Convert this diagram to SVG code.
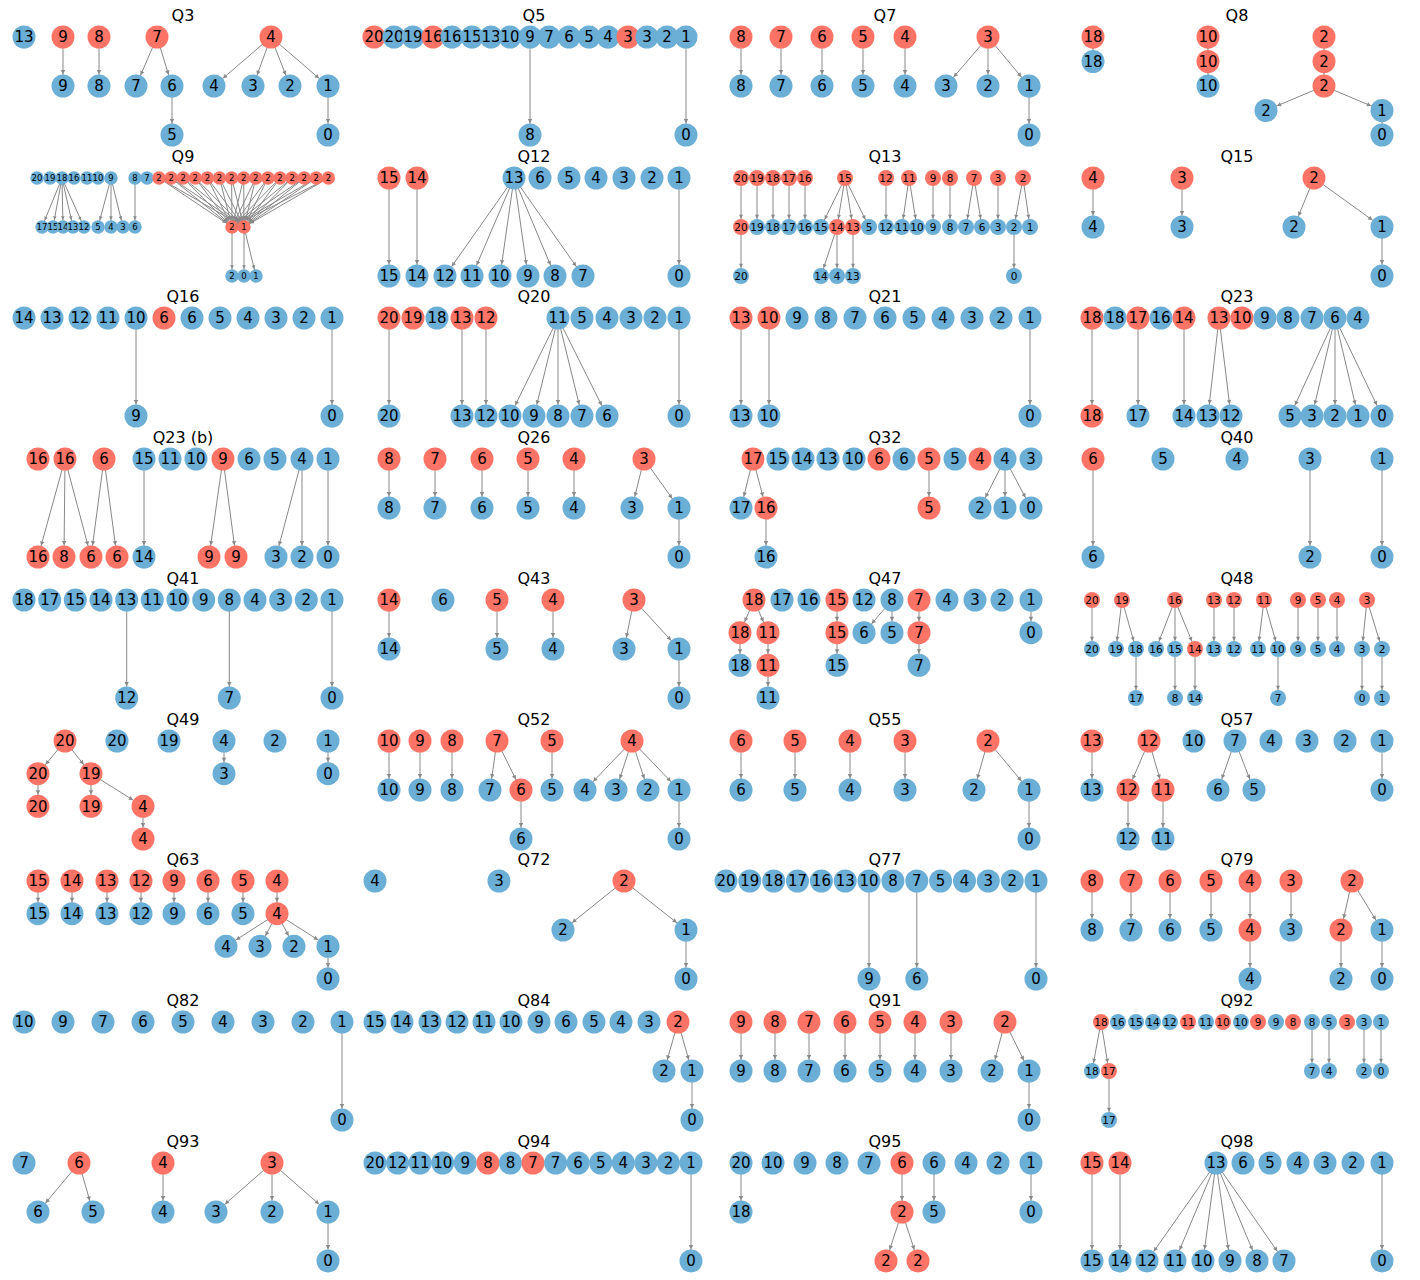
<svg xmlns="http://www.w3.org/2000/svg" width="1420" height="1280" viewBox="0 0 1420 1280">
<defs>
<marker id="a" markerUnits="userSpaceOnUse" viewBox="-20 -5 20 10" markerWidth="20" markerHeight="10" refX="0" refY="0" orient="auto"><path d="M-16,-2.2 L-11.8,0 L-16,2.2z" fill="#888"/></marker>
<marker id="as" markerUnits="userSpaceOnUse" viewBox="-20 -5 20 10" markerWidth="20" markerHeight="10" refX="0" refY="0" orient="auto"><path d="M-12.3,-2 L-8.3,0 L-12.3,2z" fill="#888"/></marker>
<marker id="at" markerUnits="userSpaceOnUse" viewBox="-20 -5 20 10" markerWidth="20" markerHeight="10" refX="0" refY="0" orient="auto"><path d="M-10.8,-1.8 L-7,0 L-10.8,1.8z" fill="#888"/></marker>
<style>
.b{fill:#6baed6}.r{fill:#fd7466}
text{font-family:"DejaVu Sans","Liberation Sans",sans-serif;text-anchor:middle;fill:#000;font-size:15px}
.ttl{font-size:16px}
.sm text{font-size:10.5px}
.xs text{font-size:8.5px}
#edges line{stroke:#888;stroke-width:1;fill:none;marker-end:url(#a)}
#edges .s line{marker-end:url(#as)}
#edges .t line{marker-end:url(#at)}
</style>
</defs>
<rect width="1420" height="1280" fill="#fff"/>
<g id="titles">
<text class="ttl" x="183" y="21">Q3</text><text class="ttl" x="534" y="21">Q5</text><text class="ttl" x="885" y="21">Q7</text><text class="ttl" x="1237" y="21">Q8</text>
<text class="ttl" x="183" y="162">Q9</text><text class="ttl" x="534" y="162">Q12</text><text class="ttl" x="885" y="162">Q13</text><text class="ttl" x="1237" y="162">Q15</text>
<text class="ttl" x="183" y="302">Q16</text><text class="ttl" x="534" y="302">Q20</text><text class="ttl" x="885" y="302">Q21</text><text class="ttl" x="1237" y="302">Q23</text>
<text class="ttl" x="183" y="443">Q23 (b)</text><text class="ttl" x="534" y="443">Q26</text><text class="ttl" x="885" y="443">Q32</text><text class="ttl" x="1237" y="443">Q40</text>
<text class="ttl" x="183" y="584">Q41</text><text class="ttl" x="534" y="584">Q43</text><text class="ttl" x="885" y="584">Q47</text><text class="ttl" x="1237" y="584">Q48</text>
<text class="ttl" x="183" y="725">Q49</text><text class="ttl" x="534" y="725">Q52</text><text class="ttl" x="885" y="725">Q55</text><text class="ttl" x="1237" y="725">Q57</text>
<text class="ttl" x="183" y="865">Q63</text><text class="ttl" x="534" y="865">Q72</text><text class="ttl" x="885" y="865">Q77</text><text class="ttl" x="1237" y="865">Q79</text>
<text class="ttl" x="183" y="1006">Q82</text><text class="ttl" x="534" y="1006">Q84</text><text class="ttl" x="885" y="1006">Q91</text><text class="ttl" x="1237" y="1006">Q92</text>
<text class="ttl" x="183" y="1147">Q93</text><text class="ttl" x="534" y="1147">Q94</text><text class="ttl" x="885" y="1147">Q95</text><text class="ttl" x="1237" y="1147">Q98</text>
</g>
<g id="edges">
<g id="e-q3"><line x1="63" y1="37" x2="63" y2="86"/><line x1="99" y1="37" x2="99" y2="86"/><line x1="157" y1="37" x2="136" y2="86"/><line x1="157" y1="37" x2="172" y2="86"/><line x1="172" y1="86" x2="172" y2="135"/><line x1="271" y1="37" x2="214" y2="86"/><line x1="271" y1="37" x2="253" y2="86"/><line x1="271" y1="37" x2="290" y2="86"/><line x1="271" y1="37" x2="328" y2="86"/><line x1="328" y1="86" x2="328" y2="135"/></g>
<g id="e-q5"><line x1="530" y1="37" x2="530" y2="135"/><line x1="686" y1="37" x2="686" y2="135"/></g>
<g id="e-q7"><line x1="741" y1="37" x2="741" y2="86"/><line x1="781" y1="37" x2="781" y2="86"/><line x1="822" y1="37" x2="822" y2="86"/><line x1="863" y1="37" x2="863" y2="86"/><line x1="905" y1="37" x2="905" y2="86"/><line x1="988" y1="37" x2="946" y2="86"/><line x1="988" y1="37" x2="988" y2="86"/><line x1="988" y1="37" x2="1029" y2="86"/><line x1="1029" y1="86" x2="1029" y2="135"/></g>
<g id="e-q8"><line x1="1093" y1="37" x2="1093" y2="61.5"/><line x1="1208" y1="37" x2="1208" y2="61.5"/><line x1="1208" y1="61.5" x2="1208" y2="86"/><line x1="1324" y1="37" x2="1324" y2="61.5"/><line x1="1324" y1="61.5" x2="1324" y2="86"/><line x1="1324" y1="86" x2="1266" y2="110.5"/><line x1="1324" y1="86" x2="1382" y2="110.5"/><line x1="1382" y1="110.5" x2="1382" y2="135"/></g>
<g id="e-q9" class="t"><line x1="62" y1="178" x2="42" y2="227"/><line x1="62" y1="178" x2="53" y2="227"/><line x1="62" y1="178" x2="63" y2="227"/><line x1="62" y1="178" x2="73" y2="227"/><line x1="62" y1="178" x2="84" y2="227"/><line x1="111" y1="178" x2="98" y2="227"/><line x1="111" y1="178" x2="111" y2="227"/><line x1="111" y1="178" x2="123" y2="227"/><line x1="135" y1="178" x2="135" y2="227"/>
<line x1="159" y1="178" x2="232" y2="227"/><line x1="159" y1="178" x2="244" y2="227"/><line x1="171.1" y1="178" x2="232" y2="227"/><line x1="171.1" y1="178" x2="244" y2="227"/><line x1="183.2" y1="178" x2="232" y2="227"/><line x1="183.2" y1="178" x2="244" y2="227"/><line x1="195.3" y1="178" x2="232" y2="227"/><line x1="195.3" y1="178" x2="244" y2="227"/><line x1="207.4" y1="178" x2="232" y2="227"/><line x1="207.4" y1="178" x2="244" y2="227"/><line x1="219.5" y1="178" x2="232" y2="227"/><line x1="219.5" y1="178" x2="244" y2="227"/><line x1="231.6" y1="178" x2="232" y2="227"/><line x1="231.6" y1="178" x2="244" y2="227"/><line x1="243.7" y1="178" x2="232" y2="227"/><line x1="243.7" y1="178" x2="244" y2="227"/><line x1="255.8" y1="178" x2="232" y2="227"/><line x1="255.8" y1="178" x2="244" y2="227"/><line x1="267.9" y1="178" x2="232" y2="227"/><line x1="267.9" y1="178" x2="244" y2="227"/><line x1="280" y1="178" x2="232" y2="227"/><line x1="280" y1="178" x2="244" y2="227"/><line x1="292.1" y1="178" x2="232" y2="227"/><line x1="292.1" y1="178" x2="244" y2="227"/><line x1="304.2" y1="178" x2="232" y2="227"/><line x1="304.2" y1="178" x2="244" y2="227"/><line x1="316.3" y1="178" x2="232" y2="227"/><line x1="316.3" y1="178" x2="244" y2="227"/><line x1="328.4" y1="178" x2="232" y2="227"/><line x1="328.4" y1="178" x2="244" y2="227"/>
<line x1="232" y1="227" x2="232" y2="276"/><line x1="244" y1="227" x2="244" y2="276"/><line x1="244" y1="227" x2="256" y2="276"/></g>
<g id="e-q12"><line x1="389" y1="178" x2="389" y2="276"/><line x1="417" y1="178" x2="417" y2="276"/><line x1="514" y1="178" x2="445" y2="276"/><line x1="514" y1="178" x2="472" y2="276"/><line x1="514" y1="178" x2="500" y2="276"/><line x1="514" y1="178" x2="528" y2="276"/><line x1="514" y1="178" x2="555" y2="276"/><line x1="514" y1="178" x2="583" y2="276"/><line x1="679" y1="178" x2="679" y2="276"/></g>
<g id="e-q13" class="s"><line x1="741" y1="178" x2="741" y2="227"/><line x1="757" y1="178" x2="757" y2="227"/><line x1="773" y1="178" x2="773" y2="227"/><line x1="789" y1="178" x2="789" y2="227"/><line x1="805" y1="178" x2="805" y2="227"/><line x1="845" y1="178" x2="821" y2="227"/><line x1="845" y1="178" x2="837" y2="227"/><line x1="845" y1="178" x2="853" y2="227"/><line x1="845" y1="178" x2="869" y2="227"/><line x1="886" y1="178" x2="886" y2="227"/><line x1="909" y1="178" x2="902" y2="227"/><line x1="909" y1="178" x2="917" y2="227"/><line x1="933" y1="178" x2="933" y2="227"/><line x1="950" y1="178" x2="950" y2="227"/><line x1="974" y1="178" x2="966" y2="227"/><line x1="974" y1="178" x2="982" y2="227"/><line x1="998" y1="178" x2="998" y2="227"/><line x1="1023" y1="178" x2="1014" y2="227"/><line x1="1023" y1="178" x2="1030" y2="227"/><line x1="741" y1="227" x2="741" y2="276"/><line x1="837" y1="227" x2="821" y2="276"/><line x1="837" y1="227" x2="837" y2="276"/><line x1="853" y1="227" x2="853" y2="276"/><line x1="1014" y1="227" x2="1014" y2="276"/></g>
<g id="e-q15"><line x1="1093" y1="178" x2="1093" y2="227"/><line x1="1182" y1="178" x2="1182" y2="227"/><line x1="1314" y1="178" x2="1294" y2="227"/><line x1="1314" y1="178" x2="1382" y2="227"/><line x1="1382" y1="227" x2="1382" y2="276"/></g>
<g id="e-q16"><line x1="136" y1="318" x2="136" y2="416"/><line x1="332" y1="318" x2="332" y2="416"/></g>
<g id="e-q20"><line x1="389" y1="318" x2="389" y2="416"/><line x1="462" y1="318" x2="462" y2="416"/><line x1="486" y1="318" x2="486" y2="416"/><line x1="558" y1="318" x2="510" y2="416"/><line x1="558" y1="318" x2="534" y2="416"/><line x1="558" y1="318" x2="558" y2="416"/><line x1="558" y1="318" x2="582" y2="416"/><line x1="558" y1="318" x2="607" y2="416"/><line x1="679" y1="318" x2="679" y2="416"/></g>
<g id="e-q21"><line x1="741" y1="318" x2="741" y2="416"/><line x1="769" y1="318" x2="769" y2="416"/><line x1="1030" y1="318" x2="1030" y2="416"/></g>
<g id="e-q23"><line x1="1092" y1="318" x2="1092" y2="416"/><line x1="1138" y1="318" x2="1138" y2="416"/><line x1="1184" y1="318" x2="1184" y2="416"/><line x1="1219" y1="318" x2="1208" y2="416"/><line x1="1219" y1="318" x2="1231" y2="416"/><line x1="1335" y1="318" x2="1290" y2="416"/><line x1="1335" y1="318" x2="1312" y2="416"/><line x1="1335" y1="318" x2="1335" y2="416"/><line x1="1335" y1="318" x2="1358" y2="416"/><line x1="1335" y1="318" x2="1382" y2="416"/></g>
<g id="e-q23b"><line x1="65" y1="459" x2="38" y2="557"/><line x1="65" y1="459" x2="64" y2="557"/><line x1="65" y1="459" x2="91" y2="557"/><line x1="104" y1="459" x2="91" y2="557"/><line x1="104" y1="459" x2="117" y2="557"/><line x1="144" y1="459" x2="144" y2="557"/><line x1="223" y1="459" x2="209" y2="557"/><line x1="223" y1="459" x2="236" y2="557"/><line x1="302" y1="459" x2="276" y2="557"/><line x1="302" y1="459" x2="302" y2="557"/><line x1="328" y1="459" x2="328" y2="557"/></g>
<g id="e-q26"><line x1="389" y1="459" x2="389" y2="508"/><line x1="435" y1="459" x2="435" y2="508"/><line x1="482" y1="459" x2="482" y2="508"/><line x1="528" y1="459" x2="528" y2="508"/><line x1="574" y1="459" x2="574" y2="508"/><line x1="644" y1="459" x2="632" y2="508"/><line x1="644" y1="459" x2="679" y2="508"/><line x1="679" y1="508" x2="679" y2="557"/></g>
<g id="e-q32"><line x1="753" y1="459" x2="741" y2="508"/><line x1="753" y1="459" x2="766" y2="508"/><line x1="766" y1="508" x2="766" y2="557"/><line x1="929" y1="459" x2="929" y2="508"/><line x1="1005" y1="459" x2="980" y2="508"/><line x1="1005" y1="459" x2="1005" y2="508"/><line x1="1005" y1="459" x2="1031" y2="508"/></g>
<g id="e-q40"><line x1="1093" y1="459" x2="1093" y2="557"/><line x1="1310" y1="459" x2="1310" y2="557"/><line x1="1382" y1="459" x2="1382" y2="557"/></g>
<g id="e-q41"><line x1="126.7" y1="600" x2="126.7" y2="698"/><line x1="229.3" y1="600" x2="229.3" y2="698"/><line x1="332" y1="600" x2="332" y2="698"/></g>
<g id="e-q43"><line x1="389" y1="600" x2="389" y2="649"/><line x1="497" y1="600" x2="497" y2="649"/><line x1="553" y1="600" x2="553" y2="649"/><line x1="634" y1="600" x2="624" y2="649"/><line x1="634" y1="600" x2="679" y2="649"/><line x1="679" y1="649" x2="679" y2="698"/></g>
<g id="e-q47"><line x1="754" y1="600" x2="740" y2="632.7"/><line x1="754" y1="600" x2="768" y2="632.7"/><line x1="740" y1="632.7" x2="740" y2="665.3"/><line x1="768" y1="632.7" x2="768" y2="665.3"/><line x1="768" y1="665.3" x2="768" y2="698"/><line x1="837" y1="600" x2="837" y2="632.7"/><line x1="837" y1="632.7" x2="837" y2="665.3"/><line x1="892" y1="600" x2="864" y2="632.7"/><line x1="892" y1="600" x2="892" y2="632.7"/><line x1="919" y1="600" x2="919" y2="632.7"/><line x1="919" y1="632.7" x2="919" y2="665.3"/><line x1="1031" y1="600" x2="1031" y2="632.7"/></g>
<g id="e-q48" class="s"><line x1="1092" y1="600" x2="1092" y2="649"/><line x1="1122" y1="600" x2="1116" y2="649"/><line x1="1122" y1="600" x2="1136" y2="649"/><line x1="1175" y1="600" x2="1156" y2="649"/><line x1="1175" y1="600" x2="1175" y2="649"/><line x1="1175" y1="600" x2="1195" y2="649"/><line x1="1214" y1="600" x2="1214" y2="649"/><line x1="1234" y1="600" x2="1234" y2="649"/><line x1="1264" y1="600" x2="1258" y2="649"/><line x1="1264" y1="600" x2="1278" y2="649"/><line x1="1298" y1="600" x2="1298" y2="649"/><line x1="1318" y1="600" x2="1318" y2="649"/><line x1="1337" y1="600" x2="1337" y2="649"/><line x1="1367" y1="600" x2="1362" y2="649"/><line x1="1367" y1="600" x2="1382" y2="649"/><line x1="1136" y1="649" x2="1136" y2="698"/><line x1="1175" y1="649" x2="1175" y2="698"/><line x1="1195" y1="649" x2="1195" y2="698"/><line x1="1278" y1="649" x2="1278" y2="698"/><line x1="1362" y1="649" x2="1362" y2="698"/><line x1="1382" y1="649" x2="1382" y2="698"/></g>
<g id="e-q49"><line x1="65" y1="741" x2="38" y2="773.7"/><line x1="65" y1="741" x2="91" y2="773.7"/><line x1="38" y1="773.7" x2="38" y2="806.3"/><line x1="91" y1="773.7" x2="91" y2="806.3"/><line x1="91" y1="773.7" x2="143" y2="806.3"/><line x1="143" y1="806.3" x2="143" y2="839"/><line x1="224" y1="741" x2="224" y2="773.7"/><line x1="328" y1="741" x2="328" y2="773.7"/></g>
<g id="e-q52"><line x1="389" y1="741" x2="389" y2="790"/><line x1="420" y1="741" x2="420" y2="790"/><line x1="452" y1="741" x2="452" y2="790"/><line x1="497" y1="741" x2="490" y2="790"/><line x1="497" y1="741" x2="521" y2="790"/><line x1="552" y1="741" x2="552" y2="790"/><line x1="632" y1="741" x2="585" y2="790"/><line x1="632" y1="741" x2="616" y2="790"/><line x1="632" y1="741" x2="648" y2="790"/><line x1="632" y1="741" x2="679" y2="790"/><line x1="521" y1="790" x2="521" y2="839"/><line x1="679" y1="790" x2="679" y2="839"/></g>
<g id="e-q55"><line x1="741" y1="741" x2="741" y2="790"/><line x1="795" y1="741" x2="795" y2="790"/><line x1="850" y1="741" x2="850" y2="790"/><line x1="905" y1="741" x2="905" y2="790"/><line x1="988" y1="741" x2="974" y2="790"/><line x1="988" y1="741" x2="1029" y2="790"/><line x1="1029" y1="790" x2="1029" y2="839"/></g>
<g id="e-q57"><line x1="1092" y1="741" x2="1092" y2="790"/><line x1="1149" y1="741" x2="1128" y2="790"/><line x1="1149" y1="741" x2="1163" y2="790"/><line x1="1128" y1="790" x2="1128" y2="839"/><line x1="1163" y1="790" x2="1163" y2="839"/><line x1="1235" y1="741" x2="1218" y2="790"/><line x1="1235" y1="741" x2="1254" y2="790"/><line x1="1382" y1="741" x2="1382" y2="790"/></g>
<g id="e-q63"><line x1="38" y1="881" x2="38" y2="913.7"/><line x1="72" y1="881" x2="72" y2="913.7"/><line x1="107" y1="881" x2="107" y2="913.7"/><line x1="141" y1="881" x2="141" y2="913.7"/><line x1="174" y1="881" x2="174" y2="913.7"/><line x1="208" y1="881" x2="208" y2="913.7"/><line x1="243" y1="881" x2="243" y2="913.7"/><line x1="277" y1="881" x2="277" y2="913.7"/><line x1="277" y1="913.7" x2="226" y2="946.3"/><line x1="277" y1="913.7" x2="260" y2="946.3"/><line x1="277" y1="913.7" x2="294" y2="946.3"/><line x1="277" y1="913.7" x2="328" y2="946.3"/><line x1="328" y1="946.3" x2="328" y2="979"/></g>
<g id="e-q72"><line x1="624" y1="881" x2="563" y2="930"/><line x1="624" y1="881" x2="686" y2="930"/><line x1="686" y1="930" x2="686" y2="979"/></g>
<g id="e-q77"><line x1="869" y1="881" x2="869" y2="979"/><line x1="916.8" y1="881" x2="916.8" y2="979"/><line x1="1036" y1="881" x2="1036" y2="979"/></g>
<g id="e-q79"><line x1="1092" y1="881" x2="1092" y2="930"/><line x1="1131" y1="881" x2="1131" y2="930"/><line x1="1170" y1="881" x2="1170" y2="930"/><line x1="1211" y1="881" x2="1211" y2="930"/><line x1="1250" y1="881" x2="1250" y2="930"/><line x1="1291" y1="881" x2="1291" y2="930"/><line x1="1352" y1="881" x2="1341" y2="930"/><line x1="1352" y1="881" x2="1382" y2="930"/><line x1="1250" y1="930" x2="1250" y2="979"/><line x1="1341" y1="930" x2="1341" y2="979"/><line x1="1382" y1="930" x2="1382" y2="979"/></g>
<g id="e-q82"><line x1="342" y1="1022" x2="342" y2="1120"/></g>
<g id="e-q84"><line x1="678" y1="1022" x2="664" y2="1071"/><line x1="678" y1="1022" x2="692" y2="1071"/><line x1="692" y1="1071" x2="692" y2="1120"/></g>
<g id="e-q91"><line x1="741" y1="1022" x2="741" y2="1071"/><line x1="775" y1="1022" x2="775" y2="1071"/><line x1="809" y1="1022" x2="809" y2="1071"/><line x1="845" y1="1022" x2="845" y2="1071"/><line x1="880" y1="1022" x2="880" y2="1071"/><line x1="915" y1="1022" x2="915" y2="1071"/><line x1="951" y1="1022" x2="951" y2="1071"/><line x1="1005" y1="1022" x2="992" y2="1071"/><line x1="1005" y1="1022" x2="1029" y2="1071"/><line x1="1029" y1="1071" x2="1029" y2="1120"/></g>
<g id="e-q92" class="s"><line x1="1101" y1="1022" x2="1092" y2="1071"/><line x1="1101" y1="1022" x2="1109" y2="1071"/><line x1="1109" y1="1071" x2="1109" y2="1120"/><line x1="1312" y1="1022" x2="1312" y2="1071"/><line x1="1329" y1="1022" x2="1329" y2="1071"/><line x1="1364" y1="1022" x2="1364" y2="1071"/><line x1="1381" y1="1022" x2="1381" y2="1071"/></g>
<g id="e-q93"><line x1="79" y1="1163" x2="38" y2="1212"/><line x1="79" y1="1163" x2="93" y2="1212"/><line x1="163" y1="1163" x2="163" y2="1212"/><line x1="272" y1="1163" x2="216" y2="1212"/><line x1="272" y1="1163" x2="272" y2="1212"/><line x1="272" y1="1163" x2="328" y2="1212"/><line x1="328" y1="1212" x2="328" y2="1261"/></g>
<g id="e-q94"><line x1="691" y1="1163" x2="691" y2="1261"/></g>
<g id="e-q95"><line x1="741" y1="1163" x2="741" y2="1212"/><line x1="902" y1="1163" x2="902" y2="1212"/><line x1="934" y1="1163" x2="934" y2="1212"/><line x1="1031" y1="1163" x2="1031" y2="1212"/><line x1="902" y1="1212" x2="886" y2="1261"/><line x1="902" y1="1212" x2="918" y2="1261"/></g>
<g id="e-q98"><line x1="1092" y1="1163" x2="1092" y2="1261"/><line x1="1120" y1="1163" x2="1120" y2="1261"/><line x1="1216" y1="1163" x2="1147" y2="1261"/><line x1="1216" y1="1163" x2="1175" y2="1261"/><line x1="1216" y1="1163" x2="1203" y2="1261"/><line x1="1216" y1="1163" x2="1230" y2="1261"/><line x1="1216" y1="1163" x2="1257" y2="1261"/><line x1="1216" y1="1163" x2="1284" y2="1261"/><line x1="1382" y1="1163" x2="1382" y2="1261"/></g>
</g>
<g id="nodes">
<g id="Q3">
<g id="q3n1"><circle class="b" cx="24" cy="37" r="11.5"/><text x="24" y="42.4">13</text></g>
<g id="q3n2"><circle class="r" cx="63" cy="37" r="11.5"/><text x="63" y="42.4">9</text></g>
<g id="q3n3"><circle class="r" cx="99" cy="37" r="11.5"/><text x="99" y="42.4">8</text></g>
<g id="q3n4"><circle class="r" cx="157" cy="37" r="11.5"/><text x="157" y="42.4">7</text></g>
<g id="q3n5"><circle class="r" cx="271" cy="37" r="11.5"/><text x="271" y="42.4">4</text></g>
<g id="q3n6"><circle class="b" cx="63" cy="86" r="11.5"/><text x="63" y="91.4">9</text></g>
<g id="q3n7"><circle class="b" cx="99" cy="86" r="11.5"/><text x="99" y="91.4">8</text></g>
<g id="q3n8"><circle class="b" cx="136" cy="86" r="11.5"/><text x="136" y="91.4">7</text></g>
<g id="q3n9"><circle class="b" cx="172" cy="86" r="11.5"/><text x="172" y="91.4">6</text></g>
<g id="q3n10"><circle class="b" cx="214" cy="86" r="11.5"/><text x="214" y="91.4">4</text></g>
<g id="q3n11"><circle class="b" cx="253" cy="86" r="11.5"/><text x="253" y="91.4">3</text></g>
<g id="q3n12"><circle class="b" cx="290" cy="86" r="11.5"/><text x="290" y="91.4">2</text></g>
<g id="q3n13"><circle class="b" cx="328" cy="86" r="11.5"/><text x="328" y="91.4">1</text></g>
<g id="q3n14"><circle class="b" cx="172" cy="135" r="11.5"/><text x="172" y="140.4">5</text></g>
<g id="q3n15"><circle class="b" cx="328" cy="135" r="11.5"/><text x="328" y="140.4">0</text></g>
</g>
<g id="Q5">
<g id="q5n1"><circle class="r" cx="374" cy="37" r="11.5"/><text x="374" y="42.4">20</text></g>
<g id="q5n2"><circle class="b" cx="394" cy="37" r="11.5"/><text x="394" y="42.4">20</text></g>
<g id="q5n3"><circle class="b" cx="413" cy="37" r="11.5"/><text x="413" y="42.4">19</text></g>
<g id="q5n4"><circle class="r" cx="433" cy="37" r="11.5"/><text x="433" y="42.4">16</text></g>
<g id="q5n5"><circle class="b" cx="452" cy="37" r="11.5"/><text x="452" y="42.4">16</text></g>
<g id="q5n6"><circle class="b" cx="472" cy="37" r="11.5"/><text x="472" y="42.4">15</text></g>
<g id="q5n7"><circle class="b" cx="491" cy="37" r="11.5"/><text x="491" y="42.4">13</text></g>
<g id="q5n8"><circle class="b" cx="510" cy="37" r="11.5"/><text x="510" y="42.4">10</text></g>
<g id="q5n9"><circle class="b" cx="530" cy="37" r="11.5"/><text x="530" y="42.4">9</text></g>
<g id="q5n10"><circle class="b" cx="549" cy="37" r="11.5"/><text x="549" y="42.4">7</text></g>
<g id="q5n11"><circle class="b" cx="569" cy="37" r="11.5"/><text x="569" y="42.4">6</text></g>
<g id="q5n12"><circle class="b" cx="589" cy="37" r="11.5"/><text x="589" y="42.4">5</text></g>
<g id="q5n13"><circle class="b" cx="608" cy="37" r="11.5"/><text x="608" y="42.4">4</text></g>
<g id="q5n14"><circle class="r" cx="628" cy="37" r="11.5"/><text x="628" y="42.4">3</text></g>
<g id="q5n15"><circle class="b" cx="647" cy="37" r="11.5"/><text x="647" y="42.4">3</text></g>
<g id="q5n16"><circle class="b" cx="667" cy="37" r="11.5"/><text x="667" y="42.4">2</text></g>
<g id="q5n17"><circle class="b" cx="686" cy="37" r="11.5"/><text x="686" y="42.4">1</text></g>
<g id="q5n18"><circle class="b" cx="530" cy="135" r="11.5"/><text x="530" y="140.4">8</text></g>
<g id="q5n19"><circle class="b" cx="686" cy="135" r="11.5"/><text x="686" y="140.4">0</text></g>
</g>
<g id="Q7">
<g id="q7n1"><circle class="r" cx="741" cy="37" r="11.5"/><text x="741" y="42.4">8</text></g>
<g id="q7n2"><circle class="r" cx="781" cy="37" r="11.5"/><text x="781" y="42.4">7</text></g>
<g id="q7n3"><circle class="r" cx="822" cy="37" r="11.5"/><text x="822" y="42.4">6</text></g>
<g id="q7n4"><circle class="r" cx="863" cy="37" r="11.5"/><text x="863" y="42.4">5</text></g>
<g id="q7n5"><circle class="r" cx="905" cy="37" r="11.5"/><text x="905" y="42.4">4</text></g>
<g id="q7n6"><circle class="r" cx="988" cy="37" r="11.5"/><text x="988" y="42.4">3</text></g>
<g id="q7n7"><circle class="b" cx="741" cy="86" r="11.5"/><text x="741" y="91.4">8</text></g>
<g id="q7n8"><circle class="b" cx="781" cy="86" r="11.5"/><text x="781" y="91.4">7</text></g>
<g id="q7n9"><circle class="b" cx="822" cy="86" r="11.5"/><text x="822" y="91.4">6</text></g>
<g id="q7n10"><circle class="b" cx="863" cy="86" r="11.5"/><text x="863" y="91.4">5</text></g>
<g id="q7n11"><circle class="b" cx="905" cy="86" r="11.5"/><text x="905" y="91.4">4</text></g>
<g id="q7n12"><circle class="b" cx="946" cy="86" r="11.5"/><text x="946" y="91.4">3</text></g>
<g id="q7n13"><circle class="b" cx="988" cy="86" r="11.5"/><text x="988" y="91.4">2</text></g>
<g id="q7n14"><circle class="b" cx="1029" cy="86" r="11.5"/><text x="1029" y="91.4">1</text></g>
<g id="q7n15"><circle class="b" cx="1029" cy="135" r="11.5"/><text x="1029" y="140.4">0</text></g>
</g>
<g id="Q8">
<g id="q8n1"><circle class="r" cx="1093" cy="37" r="11.5"/><text x="1093" y="42.4">18</text></g>
<g id="q8n2"><circle class="b" cx="1093" cy="61.5" r="11.5"/><text x="1093" y="66.9">18</text></g>
<g id="q8n3"><circle class="r" cx="1208" cy="37" r="11.5"/><text x="1208" y="42.4">10</text></g>
<g id="q8n4"><circle class="r" cx="1208" cy="61.5" r="11.5"/><text x="1208" y="66.9">10</text></g>
<g id="q8n5"><circle class="b" cx="1208" cy="86" r="11.5"/><text x="1208" y="91.4">10</text></g>
<g id="q8n6"><circle class="r" cx="1324" cy="37" r="11.5"/><text x="1324" y="42.4">2</text></g>
<g id="q8n7"><circle class="r" cx="1324" cy="61.5" r="11.5"/><text x="1324" y="66.9">2</text></g>
<g id="q8n8"><circle class="r" cx="1324" cy="86" r="11.5"/><text x="1324" y="91.4">2</text></g>
<g id="q8n9"><circle class="b" cx="1266" cy="110.5" r="11.5"/><text x="1266" y="115.9">2</text></g>
<g id="q8n10"><circle class="b" cx="1382" cy="110.5" r="11.5"/><text x="1382" y="115.9">1</text></g>
<g id="q8n11"><circle class="b" cx="1382" cy="135" r="11.5"/><text x="1382" y="140.4">0</text></g>
</g>
<g id="Q9" class="xs">
<g id="q9n1"><circle class="b" cx="37" cy="178" r="6.7"/><text x="37" y="181.1">20</text></g>
<g id="q9n2"><circle class="b" cx="50" cy="178" r="6.7"/><text x="50" y="181.1">19</text></g>
<g id="q9n3"><circle class="b" cx="62" cy="178" r="6.7"/><text x="62" y="181.1">18</text></g>
<g id="q9n4"><circle class="b" cx="74" cy="178" r="6.7"/><text x="74" y="181.1">16</text></g>
<g id="q9n5"><circle class="b" cx="87" cy="178" r="6.7"/><text x="87" y="181.1">11</text></g>
<g id="q9n6"><circle class="b" cx="98" cy="178" r="6.7"/><text x="98" y="181.1">10</text></g>
<g id="q9n7"><circle class="b" cx="111" cy="178" r="6.7"/><text x="111" y="181.1">9</text></g>
<g id="q9n8"><circle class="b" cx="135" cy="178" r="6.7"/><text x="135" y="181.1">8</text></g>
<g id="q9n9"><circle class="b" cx="147" cy="178" r="6.7"/><text x="147" y="181.1">7</text></g>
<g id="q9n10"><circle class="r" cx="159" cy="178" r="6.7"/><text x="159" y="181.1">2</text></g>
<g id="q9n11"><circle class="r" cx="171.1" cy="178" r="6.7"/><text x="171.1" y="181.1">2</text></g>
<g id="q9n12"><circle class="r" cx="183.2" cy="178" r="6.7"/><text x="183.2" y="181.1">2</text></g>
<g id="q9n13"><circle class="r" cx="195.3" cy="178" r="6.7"/><text x="195.3" y="181.1">2</text></g>
<g id="q9n14"><circle class="r" cx="207.4" cy="178" r="6.7"/><text x="207.4" y="181.1">2</text></g>
<g id="q9n15"><circle class="r" cx="219.5" cy="178" r="6.7"/><text x="219.5" y="181.1">2</text></g>
<g id="q9n16"><circle class="r" cx="231.6" cy="178" r="6.7"/><text x="231.6" y="181.1">2</text></g>
<g id="q9n17"><circle class="r" cx="243.7" cy="178" r="6.7"/><text x="243.7" y="181.1">2</text></g>
<g id="q9n18"><circle class="r" cx="255.8" cy="178" r="6.7"/><text x="255.8" y="181.1">2</text></g>
<g id="q9n19"><circle class="r" cx="267.9" cy="178" r="6.7"/><text x="267.9" y="181.1">2</text></g>
<g id="q9n20"><circle class="r" cx="280" cy="178" r="6.7"/><text x="280" y="181.1">2</text></g>
<g id="q9n21"><circle class="r" cx="292.1" cy="178" r="6.7"/><text x="292.1" y="181.1">2</text></g>
<g id="q9n22"><circle class="r" cx="304.2" cy="178" r="6.7"/><text x="304.2" y="181.1">2</text></g>
<g id="q9n23"><circle class="r" cx="316.3" cy="178" r="6.7"/><text x="316.3" y="181.1">2</text></g>
<g id="q9n24"><circle class="r" cx="328.4" cy="178" r="6.7"/><text x="328.4" y="181.1">2</text></g>
<g id="q9n25"><circle class="b" cx="42" cy="227" r="6.7"/><text x="42" y="230.1">17</text></g>
<g id="q9n26"><circle class="b" cx="53" cy="227" r="6.7"/><text x="53" y="230.1">15</text></g>
<g id="q9n27"><circle class="b" cx="63" cy="227" r="6.7"/><text x="63" y="230.1">14</text></g>
<g id="q9n28"><circle class="b" cx="73" cy="227" r="6.7"/><text x="73" y="230.1">13</text></g>
<g id="q9n29"><circle class="b" cx="84" cy="227" r="6.7"/><text x="84" y="230.1">12</text></g>
<g id="q9n30"><circle class="b" cx="98" cy="227" r="6.7"/><text x="98" y="230.1">5</text></g>
<g id="q9n31"><circle class="b" cx="111" cy="227" r="6.7"/><text x="111" y="230.1">4</text></g>
<g id="q9n32"><circle class="b" cx="123" cy="227" r="6.7"/><text x="123" y="230.1">3</text></g>
<g id="q9n33"><circle class="b" cx="135" cy="227" r="6.7"/><text x="135" y="230.1">6</text></g>
<g id="q9n34"><circle class="r" cx="232" cy="227" r="6.7"/><text x="232" y="230.1">2</text></g>
<g id="q9n35"><circle class="r" cx="244" cy="227" r="6.7"/><text x="244" y="230.1">1</text></g>
<g id="q9n36"><circle class="b" cx="232" cy="276" r="6.7"/><text x="232" y="279.1">2</text></g>
<g id="q9n37"><circle class="b" cx="244" cy="276" r="6.7"/><text x="244" y="279.1">0</text></g>
<g id="q9n38"><circle class="b" cx="256" cy="276" r="6.7"/><text x="256" y="279.1">1</text></g>
</g>
<g id="Q12">
<g id="q12n1"><circle class="r" cx="389" cy="178" r="11.5"/><text x="389" y="183.4">15</text></g>
<g id="q12n2"><circle class="r" cx="417" cy="178" r="11.5"/><text x="417" y="183.4">14</text></g>
<g id="q12n3"><circle class="b" cx="514" cy="178" r="11.5"/><text x="514" y="183.4">13</text></g>
<g id="q12n4"><circle class="b" cx="540" cy="178" r="11.5"/><text x="540" y="183.4">6</text></g>
<g id="q12n5"><circle class="b" cx="569" cy="178" r="11.5"/><text x="569" y="183.4">5</text></g>
<g id="q12n6"><circle class="b" cx="596" cy="178" r="11.5"/><text x="596" y="183.4">4</text></g>
<g id="q12n7"><circle class="b" cx="624" cy="178" r="11.5"/><text x="624" y="183.4">3</text></g>
<g id="q12n8"><circle class="b" cx="652" cy="178" r="11.5"/><text x="652" y="183.4">2</text></g>
<g id="q12n9"><circle class="b" cx="679" cy="178" r="11.5"/><text x="679" y="183.4">1</text></g>
<g id="q12n10"><circle class="b" cx="389" cy="276" r="11.5"/><text x="389" y="281.4">15</text></g>
<g id="q12n11"><circle class="b" cx="417" cy="276" r="11.5"/><text x="417" y="281.4">14</text></g>
<g id="q12n12"><circle class="b" cx="445" cy="276" r="11.5"/><text x="445" y="281.4">12</text></g>
<g id="q12n13"><circle class="b" cx="472" cy="276" r="11.5"/><text x="472" y="281.4">11</text></g>
<g id="q12n14"><circle class="b" cx="500" cy="276" r="11.5"/><text x="500" y="281.4">10</text></g>
<g id="q12n15"><circle class="b" cx="528" cy="276" r="11.5"/><text x="528" y="281.4">9</text></g>
<g id="q12n16"><circle class="b" cx="555" cy="276" r="11.5"/><text x="555" y="281.4">8</text></g>
<g id="q12n17"><circle class="b" cx="583" cy="276" r="11.5"/><text x="583" y="281.4">7</text></g>
<g id="q12n18"><circle class="b" cx="679" cy="276" r="11.5"/><text x="679" y="281.4">0</text></g>
</g>
<g id="Q13" class="sm">
<g id="q13n1"><circle class="r" cx="741" cy="178" r="8"/><text x="741" y="181.8">20</text></g>
<g id="q13n2"><circle class="r" cx="757" cy="178" r="8"/><text x="757" y="181.8">19</text></g>
<g id="q13n3"><circle class="r" cx="773" cy="178" r="8"/><text x="773" y="181.8">18</text></g>
<g id="q13n4"><circle class="r" cx="789" cy="178" r="8"/><text x="789" y="181.8">17</text></g>
<g id="q13n5"><circle class="r" cx="805" cy="178" r="8"/><text x="805" y="181.8">16</text></g>
<g id="q13n6"><circle class="r" cx="845" cy="178" r="8"/><text x="845" y="181.8">15</text></g>
<g id="q13n7"><circle class="r" cx="886" cy="178" r="8"/><text x="886" y="181.8">12</text></g>
<g id="q13n8"><circle class="r" cx="909" cy="178" r="8"/><text x="909" y="181.8">11</text></g>
<g id="q13n9"><circle class="r" cx="933" cy="178" r="8"/><text x="933" y="181.8">9</text></g>
<g id="q13n10"><circle class="r" cx="950" cy="178" r="8"/><text x="950" y="181.8">8</text></g>
<g id="q13n11"><circle class="r" cx="974" cy="178" r="8"/><text x="974" y="181.8">7</text></g>
<g id="q13n12"><circle class="r" cx="998" cy="178" r="8"/><text x="998" y="181.8">3</text></g>
<g id="q13n13"><circle class="r" cx="1023" cy="178" r="8"/><text x="1023" y="181.8">2</text></g>
<g id="q13n14"><circle class="r" cx="741" cy="227" r="8"/><text x="741" y="230.8">20</text></g>
<g id="q13n15"><circle class="b" cx="757" cy="227" r="8"/><text x="757" y="230.8">19</text></g>
<g id="q13n16"><circle class="b" cx="773" cy="227" r="8"/><text x="773" y="230.8">18</text></g>
<g id="q13n17"><circle class="b" cx="789" cy="227" r="8"/><text x="789" y="230.8">17</text></g>
<g id="q13n18"><circle class="b" cx="805" cy="227" r="8"/><text x="805" y="230.8">16</text></g>
<g id="q13n19"><circle class="b" cx="821" cy="227" r="8"/><text x="821" y="230.8">15</text></g>
<g id="q13n20"><circle class="r" cx="837" cy="227" r="8"/><text x="837" y="230.8">14</text></g>
<g id="q13n21"><circle class="r" cx="853" cy="227" r="8"/><text x="853" y="230.8">13</text></g>
<g id="q13n22"><circle class="b" cx="869" cy="227" r="8"/><text x="869" y="230.8">5</text></g>
<g id="q13n23"><circle class="b" cx="886" cy="227" r="8"/><text x="886" y="230.8">12</text></g>
<g id="q13n24"><circle class="b" cx="902" cy="227" r="8"/><text x="902" y="230.8">11</text></g>
<g id="q13n25"><circle class="b" cx="917" cy="227" r="8"/><text x="917" y="230.8">10</text></g>
<g id="q13n26"><circle class="b" cx="933" cy="227" r="8"/><text x="933" y="230.8">9</text></g>
<g id="q13n27"><circle class="b" cx="950" cy="227" r="8"/><text x="950" y="230.8">8</text></g>
<g id="q13n28"><circle class="b" cx="966" cy="227" r="8"/><text x="966" y="230.8">7</text></g>
<g id="q13n29"><circle class="b" cx="982" cy="227" r="8"/><text x="982" y="230.8">6</text></g>
<g id="q13n30"><circle class="b" cx="998" cy="227" r="8"/><text x="998" y="230.8">3</text></g>
<g id="q13n31"><circle class="b" cx="1014" cy="227" r="8"/><text x="1014" y="230.8">2</text></g>
<g id="q13n32"><circle class="b" cx="1030" cy="227" r="8"/><text x="1030" y="230.8">1</text></g>
<g id="q13n33"><circle class="b" cx="741" cy="276" r="8"/><text x="741" y="279.8">20</text></g>
<g id="q13n34"><circle class="b" cx="821" cy="276" r="8"/><text x="821" y="279.8">14</text></g>
<g id="q13n35"><circle class="b" cx="837" cy="276" r="8"/><text x="837" y="279.8">4</text></g>
<g id="q13n36"><circle class="b" cx="853" cy="276" r="8"/><text x="853" y="279.8">13</text></g>
<g id="q13n37"><circle class="b" cx="1014" cy="276" r="8"/><text x="1014" y="279.8">0</text></g>
</g>
<g id="Q15">
<g id="q15n1"><circle class="r" cx="1093" cy="178" r="11.5"/><text x="1093" y="183.4">4</text></g>
<g id="q15n2"><circle class="r" cx="1182" cy="178" r="11.5"/><text x="1182" y="183.4">3</text></g>
<g id="q15n3"><circle class="r" cx="1314" cy="178" r="11.5"/><text x="1314" y="183.4">2</text></g>
<g id="q15n4"><circle class="b" cx="1093" cy="227" r="11.5"/><text x="1093" y="232.4">4</text></g>
<g id="q15n5"><circle class="b" cx="1182" cy="227" r="11.5"/><text x="1182" y="232.4">3</text></g>
<g id="q15n6"><circle class="b" cx="1294" cy="227" r="11.5"/><text x="1294" y="232.4">2</text></g>
<g id="q15n7"><circle class="b" cx="1382" cy="227" r="11.5"/><text x="1382" y="232.4">1</text></g>
<g id="q15n8"><circle class="b" cx="1382" cy="276" r="11.5"/><text x="1382" y="281.4">0</text></g>
</g>
<g id="Q16">
<g id="q16n1"><circle class="b" cx="24" cy="318" r="11.5"/><text x="24" y="323.4">14</text></g>
<g id="q16n2"><circle class="b" cx="52" cy="318" r="11.5"/><text x="52" y="323.4">13</text></g>
<g id="q16n3"><circle class="b" cx="80" cy="318" r="11.5"/><text x="80" y="323.4">12</text></g>
<g id="q16n4"><circle class="b" cx="108" cy="318" r="11.5"/><text x="108" y="323.4">11</text></g>
<g id="q16n5"><circle class="b" cx="136" cy="318" r="11.5"/><text x="136" y="323.4">10</text></g>
<g id="q16n6"><circle class="r" cx="164" cy="318" r="11.5"/><text x="164" y="323.4">6</text></g>
<g id="q16n7"><circle class="b" cx="192" cy="318" r="11.5"/><text x="192" y="323.4">6</text></g>
<g id="q16n8"><circle class="b" cx="220" cy="318" r="11.5"/><text x="220" y="323.4">5</text></g>
<g id="q16n9"><circle class="b" cx="248" cy="318" r="11.5"/><text x="248" y="323.4">4</text></g>
<g id="q16n10"><circle class="b" cx="276" cy="318" r="11.5"/><text x="276" y="323.4">3</text></g>
<g id="q16n11"><circle class="b" cx="304" cy="318" r="11.5"/><text x="304" y="323.4">2</text></g>
<g id="q16n12"><circle class="b" cx="332" cy="318" r="11.5"/><text x="332" y="323.4">1</text></g>
<g id="q16n13"><circle class="b" cx="136" cy="416" r="11.5"/><text x="136" y="421.4">9</text></g>
<g id="q16n14"><circle class="b" cx="332" cy="416" r="11.5"/><text x="332" y="421.4">0</text></g>
</g>
<g id="Q20">
<g id="q20n1"><circle class="r" cx="389" cy="318" r="11.5"/><text x="389" y="323.4">20</text></g>
<g id="q20n2"><circle class="r" cx="413" cy="318" r="11.5"/><text x="413" y="323.4">19</text></g>
<g id="q20n3"><circle class="b" cx="437" cy="318" r="11.5"/><text x="437" y="323.4">18</text></g>
<g id="q20n4"><circle class="r" cx="462" cy="318" r="11.5"/><text x="462" y="323.4">13</text></g>
<g id="q20n5"><circle class="r" cx="486" cy="318" r="11.5"/><text x="486" y="323.4">12</text></g>
<g id="q20n6"><circle class="b" cx="558" cy="318" r="11.5"/><text x="558" y="323.4">11</text></g>
<g id="q20n7"><circle class="b" cx="582" cy="318" r="11.5"/><text x="582" y="323.4">5</text></g>
<g id="q20n8"><circle class="b" cx="607" cy="318" r="11.5"/><text x="607" y="323.4">4</text></g>
<g id="q20n9"><circle class="b" cx="631" cy="318" r="11.5"/><text x="631" y="323.4">3</text></g>
<g id="q20n10"><circle class="b" cx="655" cy="318" r="11.5"/><text x="655" y="323.4">2</text></g>
<g id="q20n11"><circle class="b" cx="679" cy="318" r="11.5"/><text x="679" y="323.4">1</text></g>
<g id="q20n12"><circle class="b" cx="389" cy="416" r="11.5"/><text x="389" y="421.4">20</text></g>
<g id="q20n13"><circle class="b" cx="462" cy="416" r="11.5"/><text x="462" y="421.4">13</text></g>
<g id="q20n14"><circle class="b" cx="486" cy="416" r="11.5"/><text x="486" y="421.4">12</text></g>
<g id="q20n15"><circle class="b" cx="510" cy="416" r="11.5"/><text x="510" y="421.4">10</text></g>
<g id="q20n16"><circle class="b" cx="534" cy="416" r="11.5"/><text x="534" y="421.4">9</text></g>
<g id="q20n17"><circle class="b" cx="558" cy="416" r="11.5"/><text x="558" y="421.4">8</text></g>
<g id="q20n18"><circle class="b" cx="582" cy="416" r="11.5"/><text x="582" y="421.4">7</text></g>
<g id="q20n19"><circle class="b" cx="607" cy="416" r="11.5"/><text x="607" y="421.4">6</text></g>
<g id="q20n20"><circle class="b" cx="679" cy="416" r="11.5"/><text x="679" y="421.4">0</text></g>
</g>
<g id="Q21">
<g id="q21n1"><circle class="r" cx="741" cy="318" r="11.5"/><text x="741" y="323.4">13</text></g>
<g id="q21n2"><circle class="r" cx="769" cy="318" r="11.5"/><text x="769" y="323.4">10</text></g>
<g id="q21n3"><circle class="b" cx="797" cy="318" r="11.5"/><text x="797" y="323.4">9</text></g>
<g id="q21n4"><circle class="b" cx="826" cy="318" r="11.5"/><text x="826" y="323.4">8</text></g>
<g id="q21n5"><circle class="b" cx="855" cy="318" r="11.5"/><text x="855" y="323.4">7</text></g>
<g id="q21n6"><circle class="b" cx="885" cy="318" r="11.5"/><text x="885" y="323.4">6</text></g>
<g id="q21n7"><circle class="b" cx="914" cy="318" r="11.5"/><text x="914" y="323.4">5</text></g>
<g id="q21n8"><circle class="b" cx="943" cy="318" r="11.5"/><text x="943" y="323.4">4</text></g>
<g id="q21n9"><circle class="b" cx="972" cy="318" r="11.5"/><text x="972" y="323.4">3</text></g>
<g id="q21n10"><circle class="b" cx="1001" cy="318" r="11.5"/><text x="1001" y="323.4">2</text></g>
<g id="q21n11"><circle class="b" cx="1030" cy="318" r="11.5"/><text x="1030" y="323.4">1</text></g>
<g id="q21n12"><circle class="b" cx="741" cy="416" r="11.5"/><text x="741" y="421.4">13</text></g>
<g id="q21n13"><circle class="b" cx="769" cy="416" r="11.5"/><text x="769" y="421.4">10</text></g>
<g id="q21n14"><circle class="b" cx="1030" cy="416" r="11.5"/><text x="1030" y="421.4">0</text></g>
</g>
<g id="Q23">
<g id="q23n1"><circle class="r" cx="1092" cy="318" r="11.5"/><text x="1092" y="323.4">18</text></g>
<g id="q23n2"><circle class="b" cx="1115" cy="318" r="11.5"/><text x="1115" y="323.4">18</text></g>
<g id="q23n3"><circle class="r" cx="1138" cy="318" r="11.5"/><text x="1138" y="323.4">17</text></g>
<g id="q23n4"><circle class="b" cx="1161" cy="318" r="11.5"/><text x="1161" y="323.4">16</text></g>
<g id="q23n5"><circle class="r" cx="1184" cy="318" r="11.5"/><text x="1184" y="323.4">14</text></g>
<g id="q23n6"><circle class="r" cx="1219" cy="318" r="11.5"/><text x="1219" y="323.4">13</text></g>
<g id="q23n7"><circle class="r" cx="1242" cy="318" r="11.5"/><text x="1242" y="323.4">10</text></g>
<g id="q23n8"><circle class="b" cx="1265" cy="318" r="11.5"/><text x="1265" y="323.4">9</text></g>
<g id="q23n9"><circle class="b" cx="1288" cy="318" r="11.5"/><text x="1288" y="323.4">8</text></g>
<g id="q23n10"><circle class="b" cx="1312" cy="318" r="11.5"/><text x="1312" y="323.4">7</text></g>
<g id="q23n11"><circle class="b" cx="1335" cy="318" r="11.5"/><text x="1335" y="323.4">6</text></g>
<g id="q23n12"><circle class="b" cx="1358" cy="318" r="11.5"/><text x="1358" y="323.4">4</text></g>
<g id="q23n13"><circle class="r" cx="1092" cy="416" r="11.5"/><text x="1092" y="421.4">18</text></g>
<g id="q23n14"><circle class="b" cx="1138" cy="416" r="11.5"/><text x="1138" y="421.4">17</text></g>
<g id="q23n15"><circle class="b" cx="1184" cy="416" r="11.5"/><text x="1184" y="421.4">14</text></g>
<g id="q23n16"><circle class="b" cx="1208" cy="416" r="11.5"/><text x="1208" y="421.4">13</text></g>
<g id="q23n17"><circle class="b" cx="1231" cy="416" r="11.5"/><text x="1231" y="421.4">12</text></g>
<g id="q23n18"><circle class="b" cx="1290" cy="416" r="11.5"/><text x="1290" y="421.4">5</text></g>
<g id="q23n19"><circle class="b" cx="1312" cy="416" r="11.5"/><text x="1312" y="421.4">3</text></g>
<g id="q23n20"><circle class="b" cx="1335" cy="416" r="11.5"/><text x="1335" y="421.4">2</text></g>
<g id="q23n21"><circle class="b" cx="1358" cy="416" r="11.5"/><text x="1358" y="421.4">1</text></g>
<g id="q23n22"><circle class="b" cx="1382" cy="416" r="11.5"/><text x="1382" y="421.4">0</text></g>
</g>
<g id="Q23b">
<g id="q23bn1"><circle class="r" cx="38" cy="459" r="11.5"/><text x="38" y="464.4">16</text></g>
<g id="q23bn2"><circle class="r" cx="65" cy="459" r="11.5"/><text x="65" y="464.4">16</text></g>
<g id="q23bn3"><circle class="r" cx="104" cy="459" r="11.5"/><text x="104" y="464.4">6</text></g>
<g id="q23bn4"><circle class="b" cx="144" cy="459" r="11.5"/><text x="144" y="464.4">15</text></g>
<g id="q23bn5"><circle class="b" cx="170" cy="459" r="11.5"/><text x="170" y="464.4">11</text></g>
<g id="q23bn6"><circle class="b" cx="196" cy="459" r="11.5"/><text x="196" y="464.4">10</text></g>
<g id="q23bn7"><circle class="r" cx="223" cy="459" r="11.5"/><text x="223" y="464.4">9</text></g>
<g id="q23bn8"><circle class="b" cx="249" cy="459" r="11.5"/><text x="249" y="464.4">6</text></g>
<g id="q23bn9"><circle class="b" cx="275" cy="459" r="11.5"/><text x="275" y="464.4">5</text></g>
<g id="q23bn10"><circle class="b" cx="302" cy="459" r="11.5"/><text x="302" y="464.4">4</text></g>
<g id="q23bn11"><circle class="b" cx="328" cy="459" r="11.5"/><text x="328" y="464.4">1</text></g>
<g id="q23bn12"><circle class="r" cx="38" cy="557" r="11.5"/><text x="38" y="562.4">16</text></g>
<g id="q23bn13"><circle class="r" cx="64" cy="557" r="11.5"/><text x="64" y="562.4">8</text></g>
<g id="q23bn14"><circle class="r" cx="91" cy="557" r="11.5"/><text x="91" y="562.4">6</text></g>
<g id="q23bn15"><circle class="r" cx="117" cy="557" r="11.5"/><text x="117" y="562.4">6</text></g>
<g id="q23bn16"><circle class="b" cx="144" cy="557" r="11.5"/><text x="144" y="562.4">14</text></g>
<g id="q23bn17"><circle class="r" cx="209" cy="557" r="11.5"/><text x="209" y="562.4">9</text></g>
<g id="q23bn18"><circle class="r" cx="236" cy="557" r="11.5"/><text x="236" y="562.4">9</text></g>
<g id="q23bn19"><circle class="b" cx="276" cy="557" r="11.5"/><text x="276" y="562.4">3</text></g>
<g id="q23bn20"><circle class="b" cx="302" cy="557" r="11.5"/><text x="302" y="562.4">2</text></g>
<g id="q23bn21"><circle class="b" cx="328" cy="557" r="11.5"/><text x="328" y="562.4">0</text></g>
</g>
<g id="Q26">
<g id="q26n1"><circle class="r" cx="389" cy="459" r="11.5"/><text x="389" y="464.4">8</text></g>
<g id="q26n2"><circle class="r" cx="435" cy="459" r="11.5"/><text x="435" y="464.4">7</text></g>
<g id="q26n3"><circle class="r" cx="482" cy="459" r="11.5"/><text x="482" y="464.4">6</text></g>
<g id="q26n4"><circle class="r" cx="528" cy="459" r="11.5"/><text x="528" y="464.4">5</text></g>
<g id="q26n5"><circle class="r" cx="574" cy="459" r="11.5"/><text x="574" y="464.4">4</text></g>
<g id="q26n6"><circle class="r" cx="644" cy="459" r="11.5"/><text x="644" y="464.4">3</text></g>
<g id="q26n7"><circle class="b" cx="389" cy="508" r="11.5"/><text x="389" y="513.4">8</text></g>
<g id="q26n8"><circle class="b" cx="435" cy="508" r="11.5"/><text x="435" y="513.4">7</text></g>
<g id="q26n9"><circle class="b" cx="482" cy="508" r="11.5"/><text x="482" y="513.4">6</text></g>
<g id="q26n10"><circle class="b" cx="528" cy="508" r="11.5"/><text x="528" y="513.4">5</text></g>
<g id="q26n11"><circle class="b" cx="574" cy="508" r="11.5"/><text x="574" y="513.4">4</text></g>
<g id="q26n12"><circle class="b" cx="632" cy="508" r="11.5"/><text x="632" y="513.4">3</text></g>
<g id="q26n13"><circle class="b" cx="679" cy="508" r="11.5"/><text x="679" y="513.4">1</text></g>
<g id="q26n14"><circle class="b" cx="679" cy="557" r="11.5"/><text x="679" y="562.4">0</text></g>
</g>
<g id="Q32">
<g id="q32n1"><circle class="r" cx="753" cy="459" r="11.5"/><text x="753" y="464.4">17</text></g>
<g id="q32n2"><circle class="b" cx="778" cy="459" r="11.5"/><text x="778" y="464.4">15</text></g>
<g id="q32n3"><circle class="b" cx="803" cy="459" r="11.5"/><text x="803" y="464.4">14</text></g>
<g id="q32n4"><circle class="b" cx="828" cy="459" r="11.5"/><text x="828" y="464.4">13</text></g>
<g id="q32n5"><circle class="b" cx="854" cy="459" r="11.5"/><text x="854" y="464.4">10</text></g>
<g id="q32n6"><circle class="r" cx="879" cy="459" r="11.5"/><text x="879" y="464.4">6</text></g>
<g id="q32n7"><circle class="b" cx="904" cy="459" r="11.5"/><text x="904" y="464.4">6</text></g>
<g id="q32n8"><circle class="r" cx="929" cy="459" r="11.5"/><text x="929" y="464.4">5</text></g>
<g id="q32n9"><circle class="b" cx="955" cy="459" r="11.5"/><text x="955" y="464.4">5</text></g>
<g id="q32n10"><circle class="r" cx="980" cy="459" r="11.5"/><text x="980" y="464.4">4</text></g>
<g id="q32n11"><circle class="b" cx="1005" cy="459" r="11.5"/><text x="1005" y="464.4">4</text></g>
<g id="q32n12"><circle class="b" cx="1031" cy="459" r="11.5"/><text x="1031" y="464.4">3</text></g>
<g id="q32n13"><circle class="b" cx="741" cy="508" r="11.5"/><text x="741" y="513.4">17</text></g>
<g id="q32n14"><circle class="r" cx="766" cy="508" r="11.5"/><text x="766" y="513.4">16</text></g>
<g id="q32n15"><circle class="r" cx="929" cy="508" r="11.5"/><text x="929" y="513.4">5</text></g>
<g id="q32n16"><circle class="b" cx="980" cy="508" r="11.5"/><text x="980" y="513.4">2</text></g>
<g id="q32n17"><circle class="b" cx="1005" cy="508" r="11.5"/><text x="1005" y="513.4">1</text></g>
<g id="q32n18"><circle class="b" cx="1031" cy="508" r="11.5"/><text x="1031" y="513.4">0</text></g>
<g id="q32n19"><circle class="b" cx="766" cy="557" r="11.5"/><text x="766" y="562.4">16</text></g>
</g>
<g id="Q40">
<g id="q40n1"><circle class="r" cx="1093" cy="459" r="11.5"/><text x="1093" y="464.4">6</text></g>
<g id="q40n2"><circle class="b" cx="1163" cy="459" r="11.5"/><text x="1163" y="464.4">5</text></g>
<g id="q40n3"><circle class="b" cx="1237" cy="459" r="11.5"/><text x="1237" y="464.4">4</text></g>
<g id="q40n4"><circle class="b" cx="1310" cy="459" r="11.5"/><text x="1310" y="464.4">3</text></g>
<g id="q40n5"><circle class="b" cx="1382" cy="459" r="11.5"/><text x="1382" y="464.4">1</text></g>
<g id="q40n6"><circle class="b" cx="1093" cy="557" r="11.5"/><text x="1093" y="562.4">6</text></g>
<g id="q40n7"><circle class="b" cx="1310" cy="557" r="11.5"/><text x="1310" y="562.4">2</text></g>
<g id="q40n8"><circle class="b" cx="1382" cy="557" r="11.5"/><text x="1382" y="562.4">0</text></g>
</g>
<g id="Q41">
<g id="q41n1"><circle class="b" cx="24" cy="600" r="11.5"/><text x="24" y="605.4">18</text></g>
<g id="q41n2"><circle class="b" cx="49.7" cy="600" r="11.5"/><text x="49.7" y="605.4">17</text></g>
<g id="q41n3"><circle class="b" cx="75.3" cy="600" r="11.5"/><text x="75.3" y="605.4">15</text></g>
<g id="q41n4"><circle class="b" cx="101" cy="600" r="11.5"/><text x="101" y="605.4">14</text></g>
<g id="q41n5"><circle class="b" cx="126.7" cy="600" r="11.5"/><text x="126.7" y="605.4">13</text></g>
<g id="q41n6"><circle class="b" cx="152.3" cy="600" r="11.5"/><text x="152.3" y="605.4">11</text></g>
<g id="q41n7"><circle class="b" cx="178" cy="600" r="11.5"/><text x="178" y="605.4">10</text></g>
<g id="q41n8"><circle class="b" cx="203.7" cy="600" r="11.5"/><text x="203.7" y="605.4">9</text></g>
<g id="q41n9"><circle class="b" cx="229.3" cy="600" r="11.5"/><text x="229.3" y="605.4">8</text></g>
<g id="q41n10"><circle class="b" cx="255" cy="600" r="11.5"/><text x="255" y="605.4">4</text></g>
<g id="q41n11"><circle class="b" cx="280.7" cy="600" r="11.5"/><text x="280.7" y="605.4">3</text></g>
<g id="q41n12"><circle class="b" cx="306.3" cy="600" r="11.5"/><text x="306.3" y="605.4">2</text></g>
<g id="q41n13"><circle class="b" cx="332" cy="600" r="11.5"/><text x="332" y="605.4">1</text></g>
<g id="q41n14"><circle class="b" cx="126.7" cy="698" r="11.5"/><text x="126.7" y="703.4">12</text></g>
<g id="q41n15"><circle class="b" cx="229.3" cy="698" r="11.5"/><text x="229.3" y="703.4">7</text></g>
<g id="q41n16"><circle class="b" cx="332" cy="698" r="11.5"/><text x="332" y="703.4">0</text></g>
</g>
<g id="Q43">
<g id="q43n1"><circle class="r" cx="389" cy="600" r="11.5"/><text x="389" y="605.4">14</text></g>
<g id="q43n2"><circle class="b" cx="443" cy="600" r="11.5"/><text x="443" y="605.4">6</text></g>
<g id="q43n3"><circle class="r" cx="497" cy="600" r="11.5"/><text x="497" y="605.4">5</text></g>
<g id="q43n4"><circle class="r" cx="553" cy="600" r="11.5"/><text x="553" y="605.4">4</text></g>
<g id="q43n5"><circle class="r" cx="634" cy="600" r="11.5"/><text x="634" y="605.4">3</text></g>
<g id="q43n6"><circle class="b" cx="389" cy="649" r="11.5"/><text x="389" y="654.4">14</text></g>
<g id="q43n7"><circle class="b" cx="497" cy="649" r="11.5"/><text x="497" y="654.4">5</text></g>
<g id="q43n8"><circle class="b" cx="553" cy="649" r="11.5"/><text x="553" y="654.4">4</text></g>
<g id="q43n9"><circle class="b" cx="624" cy="649" r="11.5"/><text x="624" y="654.4">3</text></g>
<g id="q43n10"><circle class="b" cx="679" cy="649" r="11.5"/><text x="679" y="654.4">1</text></g>
<g id="q43n11"><circle class="b" cx="679" cy="698" r="11.5"/><text x="679" y="703.4">0</text></g>
</g>
<g id="Q47">
<g id="q47n1"><circle class="r" cx="754" cy="600" r="11.5"/><text x="754" y="605.4">18</text></g>
<g id="q47n2"><circle class="b" cx="782" cy="600" r="11.5"/><text x="782" y="605.4">17</text></g>
<g id="q47n3"><circle class="b" cx="809" cy="600" r="11.5"/><text x="809" y="605.4">16</text></g>
<g id="q47n4"><circle class="r" cx="837" cy="600" r="11.5"/><text x="837" y="605.4">15</text></g>
<g id="q47n5"><circle class="b" cx="864" cy="600" r="11.5"/><text x="864" y="605.4">12</text></g>
<g id="q47n6"><circle class="b" cx="892" cy="600" r="11.5"/><text x="892" y="605.4">8</text></g>
<g id="q47n7"><circle class="r" cx="919" cy="600" r="11.5"/><text x="919" y="605.4">7</text></g>
<g id="q47n8"><circle class="b" cx="947" cy="600" r="11.5"/><text x="947" y="605.4">4</text></g>
<g id="q47n9"><circle class="b" cx="975" cy="600" r="11.5"/><text x="975" y="605.4">3</text></g>
<g id="q47n10"><circle class="b" cx="1002" cy="600" r="11.5"/><text x="1002" y="605.4">2</text></g>
<g id="q47n11"><circle class="b" cx="1031" cy="600" r="11.5"/><text x="1031" y="605.4">1</text></g>
<g id="q47n12"><circle class="r" cx="740" cy="632.7" r="11.5"/><text x="740" y="638.1">18</text></g>
<g id="q47n13"><circle class="r" cx="768" cy="632.7" r="11.5"/><text x="768" y="638.1">11</text></g>
<g id="q47n14"><circle class="r" cx="837" cy="632.7" r="11.5"/><text x="837" y="638.1">15</text></g>
<g id="q47n15"><circle class="b" cx="864" cy="632.7" r="11.5"/><text x="864" y="638.1">6</text></g>
<g id="q47n16"><circle class="b" cx="892" cy="632.7" r="11.5"/><text x="892" y="638.1">5</text></g>
<g id="q47n17"><circle class="r" cx="919" cy="632.7" r="11.5"/><text x="919" y="638.1">7</text></g>
<g id="q47n18"><circle class="b" cx="1031" cy="632.7" r="11.5"/><text x="1031" y="638.1">0</text></g>
<g id="q47n19"><circle class="b" cx="740" cy="665.3" r="11.5"/><text x="740" y="670.7">18</text></g>
<g id="q47n20"><circle class="r" cx="768" cy="665.3" r="11.5"/><text x="768" y="670.7">11</text></g>
<g id="q47n21"><circle class="b" cx="837" cy="665.3" r="11.5"/><text x="837" y="670.7">15</text></g>
<g id="q47n22"><circle class="b" cx="919" cy="665.3" r="11.5"/><text x="919" y="670.7">7</text></g>
<g id="q47n23"><circle class="b" cx="768" cy="698" r="11.5"/><text x="768" y="703.4">11</text></g>
</g>
<g id="Q48" class="sm">
<g id="q48n1"><circle class="r" cx="1092" cy="600" r="8"/><text x="1092" y="603.8">20</text></g>
<g id="q48n2"><circle class="r" cx="1122" cy="600" r="8"/><text x="1122" y="603.8">19</text></g>
<g id="q48n3"><circle class="r" cx="1175" cy="600" r="8"/><text x="1175" y="603.8">16</text></g>
<g id="q48n4"><circle class="r" cx="1214" cy="600" r="8"/><text x="1214" y="603.8">13</text></g>
<g id="q48n5"><circle class="r" cx="1234" cy="600" r="8"/><text x="1234" y="603.8">12</text></g>
<g id="q48n6"><circle class="r" cx="1264" cy="600" r="8"/><text x="1264" y="603.8">11</text></g>
<g id="q48n7"><circle class="r" cx="1298" cy="600" r="8"/><text x="1298" y="603.8">9</text></g>
<g id="q48n8"><circle class="r" cx="1318" cy="600" r="8"/><text x="1318" y="603.8">5</text></g>
<g id="q48n9"><circle class="r" cx="1337" cy="600" r="8"/><text x="1337" y="603.8">4</text></g>
<g id="q48n10"><circle class="r" cx="1367" cy="600" r="8"/><text x="1367" y="603.8">3</text></g>
<g id="q48n11"><circle class="b" cx="1092" cy="649" r="8"/><text x="1092" y="652.8">20</text></g>
<g id="q48n12"><circle class="b" cx="1116" cy="649" r="8"/><text x="1116" y="652.8">19</text></g>
<g id="q48n13"><circle class="b" cx="1136" cy="649" r="8"/><text x="1136" y="652.8">18</text></g>
<g id="q48n14"><circle class="b" cx="1156" cy="649" r="8"/><text x="1156" y="652.8">16</text></g>
<g id="q48n15"><circle class="b" cx="1175" cy="649" r="8"/><text x="1175" y="652.8">15</text></g>
<g id="q48n16"><circle class="r" cx="1195" cy="649" r="8"/><text x="1195" y="652.8">14</text></g>
<g id="q48n17"><circle class="b" cx="1214" cy="649" r="8"/><text x="1214" y="652.8">13</text></g>
<g id="q48n18"><circle class="b" cx="1234" cy="649" r="8"/><text x="1234" y="652.8">12</text></g>
<g id="q48n19"><circle class="b" cx="1258" cy="649" r="8"/><text x="1258" y="652.8">11</text></g>
<g id="q48n20"><circle class="b" cx="1278" cy="649" r="8"/><text x="1278" y="652.8">10</text></g>
<g id="q48n21"><circle class="b" cx="1298" cy="649" r="8"/><text x="1298" y="652.8">9</text></g>
<g id="q48n22"><circle class="b" cx="1318" cy="649" r="8"/><text x="1318" y="652.8">5</text></g>
<g id="q48n23"><circle class="b" cx="1337" cy="649" r="8"/><text x="1337" y="652.8">4</text></g>
<g id="q48n24"><circle class="b" cx="1362" cy="649" r="8"/><text x="1362" y="652.8">3</text></g>
<g id="q48n25"><circle class="b" cx="1382" cy="649" r="8"/><text x="1382" y="652.8">2</text></g>
<g id="q48n26"><circle class="b" cx="1136" cy="698" r="8"/><text x="1136" y="701.8">17</text></g>
<g id="q48n27"><circle class="b" cx="1175" cy="698" r="8"/><text x="1175" y="701.8">8</text></g>
<g id="q48n28"><circle class="b" cx="1195" cy="698" r="8"/><text x="1195" y="701.8">14</text></g>
<g id="q48n29"><circle class="b" cx="1278" cy="698" r="8"/><text x="1278" y="701.8">7</text></g>
<g id="q48n30"><circle class="b" cx="1362" cy="698" r="8"/><text x="1362" y="701.8">0</text></g>
<g id="q48n31"><circle class="b" cx="1382" cy="698" r="8"/><text x="1382" y="701.8">1</text></g>
</g>
<g id="Q49">
<g id="q49n1"><circle class="r" cx="65" cy="741" r="11.5"/><text x="65" y="746.4">20</text></g>
<g id="q49n2"><circle class="b" cx="117" cy="741" r="11.5"/><text x="117" y="746.4">20</text></g>
<g id="q49n3"><circle class="b" cx="169" cy="741" r="11.5"/><text x="169" y="746.4">19</text></g>
<g id="q49n4"><circle class="b" cx="224" cy="741" r="11.5"/><text x="224" y="746.4">4</text></g>
<g id="q49n5"><circle class="b" cx="275" cy="741" r="11.5"/><text x="275" y="746.4">2</text></g>
<g id="q49n6"><circle class="b" cx="328" cy="741" r="11.5"/><text x="328" y="746.4">1</text></g>
<g id="q49n7"><circle class="r" cx="38" cy="773.7" r="11.5"/><text x="38" y="779.1">20</text></g>
<g id="q49n8"><circle class="r" cx="91" cy="773.7" r="11.5"/><text x="91" y="779.1">19</text></g>
<g id="q49n9"><circle class="b" cx="224" cy="773.7" r="11.5"/><text x="224" y="779.1">3</text></g>
<g id="q49n10"><circle class="b" cx="328" cy="773.7" r="11.5"/><text x="328" y="779.1">0</text></g>
<g id="q49n11"><circle class="r" cx="38" cy="806.3" r="11.5"/><text x="38" y="811.7">20</text></g>
<g id="q49n12"><circle class="r" cx="91" cy="806.3" r="11.5"/><text x="91" y="811.7">19</text></g>
<g id="q49n13"><circle class="r" cx="143" cy="806.3" r="11.5"/><text x="143" y="811.7">4</text></g>
<g id="q49n14"><circle class="r" cx="143" cy="839" r="11.5"/><text x="143" y="844.4">4</text></g>
</g>
<g id="Q52">
<g id="q52n1"><circle class="r" cx="389" cy="741" r="11.5"/><text x="389" y="746.4">10</text></g>
<g id="q52n2"><circle class="r" cx="420" cy="741" r="11.5"/><text x="420" y="746.4">9</text></g>
<g id="q52n3"><circle class="r" cx="452" cy="741" r="11.5"/><text x="452" y="746.4">8</text></g>
<g id="q52n4"><circle class="r" cx="497" cy="741" r="11.5"/><text x="497" y="746.4">7</text></g>
<g id="q52n5"><circle class="r" cx="552" cy="741" r="11.5"/><text x="552" y="746.4">5</text></g>
<g id="q52n6"><circle class="r" cx="632" cy="741" r="11.5"/><text x="632" y="746.4">4</text></g>
<g id="q52n7"><circle class="b" cx="389" cy="790" r="11.5"/><text x="389" y="795.4">10</text></g>
<g id="q52n8"><circle class="b" cx="420" cy="790" r="11.5"/><text x="420" y="795.4">9</text></g>
<g id="q52n9"><circle class="b" cx="452" cy="790" r="11.5"/><text x="452" y="795.4">8</text></g>
<g id="q52n10"><circle class="b" cx="490" cy="790" r="11.5"/><text x="490" y="795.4">7</text></g>
<g id="q52n11"><circle class="r" cx="521" cy="790" r="11.5"/><text x="521" y="795.4">6</text></g>
<g id="q52n12"><circle class="b" cx="552" cy="790" r="11.5"/><text x="552" y="795.4">5</text></g>
<g id="q52n13"><circle class="b" cx="585" cy="790" r="11.5"/><text x="585" y="795.4">4</text></g>
<g id="q52n14"><circle class="b" cx="616" cy="790" r="11.5"/><text x="616" y="795.4">3</text></g>
<g id="q52n15"><circle class="b" cx="648" cy="790" r="11.5"/><text x="648" y="795.4">2</text></g>
<g id="q52n16"><circle class="b" cx="679" cy="790" r="11.5"/><text x="679" y="795.4">1</text></g>
<g id="q52n17"><circle class="b" cx="521" cy="839" r="11.5"/><text x="521" y="844.4">6</text></g>
<g id="q52n18"><circle class="b" cx="679" cy="839" r="11.5"/><text x="679" y="844.4">0</text></g>
</g>
<g id="Q55">
<g id="q55n1"><circle class="r" cx="741" cy="741" r="11.5"/><text x="741" y="746.4">6</text></g>
<g id="q55n2"><circle class="r" cx="795" cy="741" r="11.5"/><text x="795" y="746.4">5</text></g>
<g id="q55n3"><circle class="r" cx="850" cy="741" r="11.5"/><text x="850" y="746.4">4</text></g>
<g id="q55n4"><circle class="r" cx="905" cy="741" r="11.5"/><text x="905" y="746.4">3</text></g>
<g id="q55n5"><circle class="r" cx="988" cy="741" r="11.5"/><text x="988" y="746.4">2</text></g>
<g id="q55n6"><circle class="b" cx="741" cy="790" r="11.5"/><text x="741" y="795.4">6</text></g>
<g id="q55n7"><circle class="b" cx="795" cy="790" r="11.5"/><text x="795" y="795.4">5</text></g>
<g id="q55n8"><circle class="b" cx="850" cy="790" r="11.5"/><text x="850" y="795.4">4</text></g>
<g id="q55n9"><circle class="b" cx="905" cy="790" r="11.5"/><text x="905" y="795.4">3</text></g>
<g id="q55n10"><circle class="b" cx="974" cy="790" r="11.5"/><text x="974" y="795.4">2</text></g>
<g id="q55n11"><circle class="b" cx="1029" cy="790" r="11.5"/><text x="1029" y="795.4">1</text></g>
<g id="q55n12"><circle class="b" cx="1029" cy="839" r="11.5"/><text x="1029" y="844.4">0</text></g>
</g>
<g id="Q57">
<g id="q57n1"><circle class="r" cx="1092" cy="741" r="11.5"/><text x="1092" y="746.4">13</text></g>
<g id="q57n2"><circle class="r" cx="1149" cy="741" r="11.5"/><text x="1149" y="746.4">12</text></g>
<g id="q57n3"><circle class="b" cx="1194" cy="741" r="11.5"/><text x="1194" y="746.4">10</text></g>
<g id="q57n4"><circle class="b" cx="1235" cy="741" r="11.5"/><text x="1235" y="746.4">7</text></g>
<g id="q57n5"><circle class="b" cx="1271" cy="741" r="11.5"/><text x="1271" y="746.4">4</text></g>
<g id="q57n6"><circle class="b" cx="1307" cy="741" r="11.5"/><text x="1307" y="746.4">3</text></g>
<g id="q57n7"><circle class="b" cx="1345" cy="741" r="11.5"/><text x="1345" y="746.4">2</text></g>
<g id="q57n8"><circle class="b" cx="1382" cy="741" r="11.5"/><text x="1382" y="746.4">1</text></g>
<g id="q57n9"><circle class="b" cx="1092" cy="790" r="11.5"/><text x="1092" y="795.4">13</text></g>
<g id="q57n10"><circle class="r" cx="1128" cy="790" r="11.5"/><text x="1128" y="795.4">12</text></g>
<g id="q57n11"><circle class="r" cx="1163" cy="790" r="11.5"/><text x="1163" y="795.4">11</text></g>
<g id="q57n12"><circle class="b" cx="1218" cy="790" r="11.5"/><text x="1218" y="795.4">6</text></g>
<g id="q57n13"><circle class="b" cx="1254" cy="790" r="11.5"/><text x="1254" y="795.4">5</text></g>
<g id="q57n14"><circle class="b" cx="1382" cy="790" r="11.5"/><text x="1382" y="795.4">0</text></g>
<g id="q57n15"><circle class="b" cx="1128" cy="839" r="11.5"/><text x="1128" y="844.4">12</text></g>
<g id="q57n16"><circle class="b" cx="1163" cy="839" r="11.5"/><text x="1163" y="844.4">11</text></g>
</g>
<g id="Q63">
<g id="q63n1"><circle class="r" cx="38" cy="881" r="11.5"/><text x="38" y="886.4">15</text></g>
<g id="q63n2"><circle class="r" cx="72" cy="881" r="11.5"/><text x="72" y="886.4">14</text></g>
<g id="q63n3"><circle class="r" cx="107" cy="881" r="11.5"/><text x="107" y="886.4">13</text></g>
<g id="q63n4"><circle class="r" cx="141" cy="881" r="11.5"/><text x="141" y="886.4">12</text></g>
<g id="q63n5"><circle class="r" cx="174" cy="881" r="11.5"/><text x="174" y="886.4">9</text></g>
<g id="q63n6"><circle class="r" cx="208" cy="881" r="11.5"/><text x="208" y="886.4">6</text></g>
<g id="q63n7"><circle class="r" cx="243" cy="881" r="11.5"/><text x="243" y="886.4">5</text></g>
<g id="q63n8"><circle class="r" cx="277" cy="881" r="11.5"/><text x="277" y="886.4">4</text></g>
<g id="q63n9"><circle class="b" cx="38" cy="913.7" r="11.5"/><text x="38" y="919.1">15</text></g>
<g id="q63n10"><circle class="b" cx="72" cy="913.7" r="11.5"/><text x="72" y="919.1">14</text></g>
<g id="q63n11"><circle class="b" cx="107" cy="913.7" r="11.5"/><text x="107" y="919.1">13</text></g>
<g id="q63n12"><circle class="b" cx="141" cy="913.7" r="11.5"/><text x="141" y="919.1">12</text></g>
<g id="q63n13"><circle class="b" cx="174" cy="913.7" r="11.5"/><text x="174" y="919.1">9</text></g>
<g id="q63n14"><circle class="b" cx="208" cy="913.7" r="11.5"/><text x="208" y="919.1">6</text></g>
<g id="q63n15"><circle class="b" cx="243" cy="913.7" r="11.5"/><text x="243" y="919.1">5</text></g>
<g id="q63n16"><circle class="r" cx="277" cy="913.7" r="11.5"/><text x="277" y="919.1">4</text></g>
<g id="q63n17"><circle class="b" cx="226" cy="946.3" r="11.5"/><text x="226" y="951.7">4</text></g>
<g id="q63n18"><circle class="b" cx="260" cy="946.3" r="11.5"/><text x="260" y="951.7">3</text></g>
<g id="q63n19"><circle class="b" cx="294" cy="946.3" r="11.5"/><text x="294" y="951.7">2</text></g>
<g id="q63n20"><circle class="b" cx="328" cy="946.3" r="11.5"/><text x="328" y="951.7">1</text></g>
<g id="q63n21"><circle class="b" cx="328" cy="979" r="11.5"/><text x="328" y="984.4">0</text></g>
</g>
<g id="Q72">
<g id="q72n1"><circle class="b" cx="375" cy="881" r="11.5"/><text x="375" y="886.4">4</text></g>
<g id="q72n2"><circle class="b" cx="499" cy="881" r="11.5"/><text x="499" y="886.4">3</text></g>
<g id="q72n3"><circle class="r" cx="624" cy="881" r="11.5"/><text x="624" y="886.4">2</text></g>
<g id="q72n4"><circle class="b" cx="563" cy="930" r="11.5"/><text x="563" y="935.4">2</text></g>
<g id="q72n5"><circle class="b" cx="686" cy="930" r="11.5"/><text x="686" y="935.4">1</text></g>
<g id="q72n6"><circle class="b" cx="686" cy="979" r="11.5"/><text x="686" y="984.4">0</text></g>
</g>
<g id="Q77">
<g id="q77n1"><circle class="b" cx="726" cy="881" r="11.5"/><text x="726" y="886.4">20</text></g>
<g id="q77n2"><circle class="b" cx="749.8" cy="881" r="11.5"/><text x="749.8" y="886.4">19</text></g>
<g id="q77n3"><circle class="b" cx="773.7" cy="881" r="11.5"/><text x="773.7" y="886.4">18</text></g>
<g id="q77n4"><circle class="b" cx="797.5" cy="881" r="11.5"/><text x="797.5" y="886.4">17</text></g>
<g id="q77n5"><circle class="b" cx="821.4" cy="881" r="11.5"/><text x="821.4" y="886.4">16</text></g>
<g id="q77n6"><circle class="b" cx="845.2" cy="881" r="11.5"/><text x="845.2" y="886.4">13</text></g>
<g id="q77n7"><circle class="b" cx="869" cy="881" r="11.5"/><text x="869" y="886.4">10</text></g>
<g id="q77n8"><circle class="b" cx="892.9" cy="881" r="11.5"/><text x="892.9" y="886.4">8</text></g>
<g id="q77n9"><circle class="b" cx="916.8" cy="881" r="11.5"/><text x="916.8" y="886.4">7</text></g>
<g id="q77n10"><circle class="b" cx="940.6" cy="881" r="11.5"/><text x="940.6" y="886.4">5</text></g>
<g id="q77n11"><circle class="b" cx="964.5" cy="881" r="11.5"/><text x="964.5" y="886.4">4</text></g>
<g id="q77n12"><circle class="b" cx="988.3" cy="881" r="11.5"/><text x="988.3" y="886.4">3</text></g>
<g id="q77n13"><circle class="b" cx="1012.2" cy="881" r="11.5"/><text x="1012.2" y="886.4">2</text></g>
<g id="q77n14"><circle class="b" cx="1036" cy="881" r="11.5"/><text x="1036" y="886.4">1</text></g>
<g id="q77n15"><circle class="b" cx="869" cy="979" r="11.5"/><text x="869" y="984.4">9</text></g>
<g id="q77n16"><circle class="b" cx="916.8" cy="979" r="11.5"/><text x="916.8" y="984.4">6</text></g>
<g id="q77n17"><circle class="b" cx="1036" cy="979" r="11.5"/><text x="1036" y="984.4">0</text></g>
</g>
<g id="Q79">
<g id="q79n1"><circle class="r" cx="1092" cy="881" r="11.5"/><text x="1092" y="886.4">8</text></g>
<g id="q79n2"><circle class="r" cx="1131" cy="881" r="11.5"/><text x="1131" y="886.4">7</text></g>
<g id="q79n3"><circle class="r" cx="1170" cy="881" r="11.5"/><text x="1170" y="886.4">6</text></g>
<g id="q79n4"><circle class="r" cx="1211" cy="881" r="11.5"/><text x="1211" y="886.4">5</text></g>
<g id="q79n5"><circle class="r" cx="1250" cy="881" r="11.5"/><text x="1250" y="886.4">4</text></g>
<g id="q79n6"><circle class="r" cx="1291" cy="881" r="11.5"/><text x="1291" y="886.4">3</text></g>
<g id="q79n7"><circle class="r" cx="1352" cy="881" r="11.5"/><text x="1352" y="886.4">2</text></g>
<g id="q79n8"><circle class="b" cx="1092" cy="930" r="11.5"/><text x="1092" y="935.4">8</text></g>
<g id="q79n9"><circle class="b" cx="1131" cy="930" r="11.5"/><text x="1131" y="935.4">7</text></g>
<g id="q79n10"><circle class="b" cx="1170" cy="930" r="11.5"/><text x="1170" y="935.4">6</text></g>
<g id="q79n11"><circle class="b" cx="1211" cy="930" r="11.5"/><text x="1211" y="935.4">5</text></g>
<g id="q79n12"><circle class="r" cx="1250" cy="930" r="11.5"/><text x="1250" y="935.4">4</text></g>
<g id="q79n13"><circle class="b" cx="1291" cy="930" r="11.5"/><text x="1291" y="935.4">3</text></g>
<g id="q79n14"><circle class="r" cx="1341" cy="930" r="11.5"/><text x="1341" y="935.4">2</text></g>
<g id="q79n15"><circle class="b" cx="1382" cy="930" r="11.5"/><text x="1382" y="935.4">1</text></g>
<g id="q79n16"><circle class="b" cx="1250" cy="979" r="11.5"/><text x="1250" y="984.4">4</text></g>
<g id="q79n17"><circle class="b" cx="1341" cy="979" r="11.5"/><text x="1341" y="984.4">2</text></g>
<g id="q79n18"><circle class="b" cx="1382" cy="979" r="11.5"/><text x="1382" y="984.4">0</text></g>
</g>
<g id="Q82">
<g id="q82n1"><circle class="b" cx="24" cy="1022" r="11.5"/><text x="24" y="1027.4">10</text></g>
<g id="q82n2"><circle class="b" cx="63" cy="1022" r="11.5"/><text x="63" y="1027.4">9</text></g>
<g id="q82n3"><circle class="b" cx="103" cy="1022" r="11.5"/><text x="103" y="1027.4">7</text></g>
<g id="q82n4"><circle class="b" cx="143" cy="1022" r="11.5"/><text x="143" y="1027.4">6</text></g>
<g id="q82n5"><circle class="b" cx="183" cy="1022" r="11.5"/><text x="183" y="1027.4">5</text></g>
<g id="q82n6"><circle class="b" cx="223" cy="1022" r="11.5"/><text x="223" y="1027.4">4</text></g>
<g id="q82n7"><circle class="b" cx="263" cy="1022" r="11.5"/><text x="263" y="1027.4">3</text></g>
<g id="q82n8"><circle class="b" cx="303" cy="1022" r="11.5"/><text x="303" y="1027.4">2</text></g>
<g id="q82n9"><circle class="b" cx="342" cy="1022" r="11.5"/><text x="342" y="1027.4">1</text></g>
<g id="q82n10"><circle class="b" cx="342" cy="1120" r="11.5"/><text x="342" y="1125.4">0</text></g>
</g>
<g id="Q84">
<g id="q84n1"><circle class="b" cx="375" cy="1022" r="11.5"/><text x="375" y="1027.4">15</text></g>
<g id="q84n2"><circle class="b" cx="402" cy="1022" r="11.5"/><text x="402" y="1027.4">14</text></g>
<g id="q84n3"><circle class="b" cx="430" cy="1022" r="11.5"/><text x="430" y="1027.4">13</text></g>
<g id="q84n4"><circle class="b" cx="457" cy="1022" r="11.5"/><text x="457" y="1027.4">12</text></g>
<g id="q84n5"><circle class="b" cx="484" cy="1022" r="11.5"/><text x="484" y="1027.4">11</text></g>
<g id="q84n6"><circle class="b" cx="511" cy="1022" r="11.5"/><text x="511" y="1027.4">10</text></g>
<g id="q84n7"><circle class="b" cx="539" cy="1022" r="11.5"/><text x="539" y="1027.4">9</text></g>
<g id="q84n8"><circle class="b" cx="566" cy="1022" r="11.5"/><text x="566" y="1027.4">6</text></g>
<g id="q84n9"><circle class="b" cx="594" cy="1022" r="11.5"/><text x="594" y="1027.4">5</text></g>
<g id="q84n10"><circle class="b" cx="621" cy="1022" r="11.5"/><text x="621" y="1027.4">4</text></g>
<g id="q84n11"><circle class="b" cx="649" cy="1022" r="11.5"/><text x="649" y="1027.4">3</text></g>
<g id="q84n12"><circle class="r" cx="678" cy="1022" r="11.5"/><text x="678" y="1027.4">2</text></g>
<g id="q84n13"><circle class="b" cx="664" cy="1071" r="11.5"/><text x="664" y="1076.4">2</text></g>
<g id="q84n14"><circle class="b" cx="692" cy="1071" r="11.5"/><text x="692" y="1076.4">1</text></g>
<g id="q84n15"><circle class="b" cx="692" cy="1120" r="11.5"/><text x="692" y="1125.4">0</text></g>
</g>
<g id="Q91">
<g id="q91n1"><circle class="r" cx="741" cy="1022" r="11.5"/><text x="741" y="1027.4">9</text></g>
<g id="q91n2"><circle class="r" cx="775" cy="1022" r="11.5"/><text x="775" y="1027.4">8</text></g>
<g id="q91n3"><circle class="r" cx="809" cy="1022" r="11.5"/><text x="809" y="1027.4">7</text></g>
<g id="q91n4"><circle class="r" cx="845" cy="1022" r="11.5"/><text x="845" y="1027.4">6</text></g>
<g id="q91n5"><circle class="r" cx="880" cy="1022" r="11.5"/><text x="880" y="1027.4">5</text></g>
<g id="q91n6"><circle class="r" cx="915" cy="1022" r="11.5"/><text x="915" y="1027.4">4</text></g>
<g id="q91n7"><circle class="r" cx="951" cy="1022" r="11.5"/><text x="951" y="1027.4">3</text></g>
<g id="q91n8"><circle class="r" cx="1005" cy="1022" r="11.5"/><text x="1005" y="1027.4">2</text></g>
<g id="q91n9"><circle class="b" cx="741" cy="1071" r="11.5"/><text x="741" y="1076.4">9</text></g>
<g id="q91n10"><circle class="b" cx="775" cy="1071" r="11.5"/><text x="775" y="1076.4">8</text></g>
<g id="q91n11"><circle class="b" cx="809" cy="1071" r="11.5"/><text x="809" y="1076.4">7</text></g>
<g id="q91n12"><circle class="b" cx="845" cy="1071" r="11.5"/><text x="845" y="1076.4">6</text></g>
<g id="q91n13"><circle class="b" cx="880" cy="1071" r="11.5"/><text x="880" y="1076.4">5</text></g>
<g id="q91n14"><circle class="b" cx="915" cy="1071" r="11.5"/><text x="915" y="1076.4">4</text></g>
<g id="q91n15"><circle class="b" cx="951" cy="1071" r="11.5"/><text x="951" y="1076.4">3</text></g>
<g id="q91n16"><circle class="b" cx="992" cy="1071" r="11.5"/><text x="992" y="1076.4">2</text></g>
<g id="q91n17"><circle class="b" cx="1029" cy="1071" r="11.5"/><text x="1029" y="1076.4">1</text></g>
<g id="q91n18"><circle class="b" cx="1029" cy="1120" r="11.5"/><text x="1029" y="1125.4">0</text></g>
</g>
<g id="Q92" class="sm">
<g id="q92n1"><circle class="r" cx="1101" cy="1022" r="8"/><text x="1101" y="1025.8">18</text></g>
<g id="q92n2"><circle class="b" cx="1118" cy="1022" r="8"/><text x="1118" y="1025.8">16</text></g>
<g id="q92n3"><circle class="b" cx="1136" cy="1022" r="8"/><text x="1136" y="1025.8">15</text></g>
<g id="q92n4"><circle class="b" cx="1153" cy="1022" r="8"/><text x="1153" y="1025.8">14</text></g>
<g id="q92n5"><circle class="b" cx="1170" cy="1022" r="8"/><text x="1170" y="1025.8">12</text></g>
<g id="q92n6"><circle class="r" cx="1188" cy="1022" r="8"/><text x="1188" y="1025.8">11</text></g>
<g id="q92n7"><circle class="b" cx="1206" cy="1022" r="8"/><text x="1206" y="1025.8">11</text></g>
<g id="q92n8"><circle class="r" cx="1223" cy="1022" r="8"/><text x="1223" y="1025.8">10</text></g>
<g id="q92n9"><circle class="b" cx="1241" cy="1022" r="8"/><text x="1241" y="1025.8">10</text></g>
<g id="q92n10"><circle class="r" cx="1258" cy="1022" r="8"/><text x="1258" y="1025.8">9</text></g>
<g id="q92n11"><circle class="b" cx="1276" cy="1022" r="8"/><text x="1276" y="1025.8">9</text></g>
<g id="q92n12"><circle class="r" cx="1293" cy="1022" r="8"/><text x="1293" y="1025.8">8</text></g>
<g id="q92n13"><circle class="b" cx="1312" cy="1022" r="8"/><text x="1312" y="1025.8">8</text></g>
<g id="q92n14"><circle class="b" cx="1329" cy="1022" r="8"/><text x="1329" y="1025.8">5</text></g>
<g id="q92n15"><circle class="r" cx="1347" cy="1022" r="8"/><text x="1347" y="1025.8">3</text></g>
<g id="q92n16"><circle class="b" cx="1364" cy="1022" r="8"/><text x="1364" y="1025.8">3</text></g>
<g id="q92n17"><circle class="b" cx="1381" cy="1022" r="8"/><text x="1381" y="1025.8">1</text></g>
<g id="q92n18"><circle class="b" cx="1092" cy="1071" r="8"/><text x="1092" y="1074.8">18</text></g>
<g id="q92n19"><circle class="r" cx="1109" cy="1071" r="8"/><text x="1109" y="1074.8">17</text></g>
<g id="q92n20"><circle class="b" cx="1312" cy="1071" r="8"/><text x="1312" y="1074.8">7</text></g>
<g id="q92n21"><circle class="b" cx="1329" cy="1071" r="8"/><text x="1329" y="1074.8">4</text></g>
<g id="q92n22"><circle class="b" cx="1364" cy="1071" r="8"/><text x="1364" y="1074.8">2</text></g>
<g id="q92n23"><circle class="b" cx="1381" cy="1071" r="8"/><text x="1381" y="1074.8">0</text></g>
<g id="q92n24"><circle class="b" cx="1109" cy="1120" r="8"/><text x="1109" y="1123.8">17</text></g>
</g>
<g id="Q93">
<g id="q93n1"><circle class="b" cx="24" cy="1163" r="11.5"/><text x="24" y="1168.4">7</text></g>
<g id="q93n2"><circle class="r" cx="79" cy="1163" r="11.5"/><text x="79" y="1168.4">6</text></g>
<g id="q93n3"><circle class="r" cx="163" cy="1163" r="11.5"/><text x="163" y="1168.4">4</text></g>
<g id="q93n4"><circle class="r" cx="272" cy="1163" r="11.5"/><text x="272" y="1168.4">3</text></g>
<g id="q93n5"><circle class="b" cx="38" cy="1212" r="11.5"/><text x="38" y="1217.4">6</text></g>
<g id="q93n6"><circle class="b" cx="93" cy="1212" r="11.5"/><text x="93" y="1217.4">5</text></g>
<g id="q93n7"><circle class="b" cx="163" cy="1212" r="11.5"/><text x="163" y="1217.4">4</text></g>
<g id="q93n8"><circle class="b" cx="216" cy="1212" r="11.5"/><text x="216" y="1217.4">3</text></g>
<g id="q93n9"><circle class="b" cx="272" cy="1212" r="11.5"/><text x="272" y="1217.4">2</text></g>
<g id="q93n10"><circle class="b" cx="328" cy="1212" r="11.5"/><text x="328" y="1217.4">1</text></g>
<g id="q93n11"><circle class="b" cx="328" cy="1261" r="11.5"/><text x="328" y="1266.4">0</text></g>
</g>
<g id="Q94">
<g id="q94n1"><circle class="b" cx="375" cy="1163" r="11.5"/><text x="375" y="1168.4">20</text></g>
<g id="q94n2"><circle class="b" cx="397.6" cy="1163" r="11.5"/><text x="397.6" y="1168.4">12</text></g>
<g id="q94n3"><circle class="b" cx="420.1" cy="1163" r="11.5"/><text x="420.1" y="1168.4">11</text></g>
<g id="q94n4"><circle class="b" cx="442.7" cy="1163" r="11.5"/><text x="442.7" y="1168.4">10</text></g>
<g id="q94n5"><circle class="b" cx="465.3" cy="1163" r="11.5"/><text x="465.3" y="1168.4">9</text></g>
<g id="q94n6"><circle class="r" cx="487.9" cy="1163" r="11.5"/><text x="487.9" y="1168.4">8</text></g>
<g id="q94n7"><circle class="b" cx="510.4" cy="1163" r="11.5"/><text x="510.4" y="1168.4">8</text></g>
<g id="q94n8"><circle class="r" cx="533" cy="1163" r="11.5"/><text x="533" y="1168.4">7</text></g>
<g id="q94n9"><circle class="b" cx="555.6" cy="1163" r="11.5"/><text x="555.6" y="1168.4">7</text></g>
<g id="q94n10"><circle class="b" cx="578.1" cy="1163" r="11.5"/><text x="578.1" y="1168.4">6</text></g>
<g id="q94n11"><circle class="b" cx="600.7" cy="1163" r="11.5"/><text x="600.7" y="1168.4">5</text></g>
<g id="q94n12"><circle class="b" cx="623.3" cy="1163" r="11.5"/><text x="623.3" y="1168.4">4</text></g>
<g id="q94n13"><circle class="b" cx="645.9" cy="1163" r="11.5"/><text x="645.9" y="1168.4">3</text></g>
<g id="q94n14"><circle class="b" cx="668.4" cy="1163" r="11.5"/><text x="668.4" y="1168.4">2</text></g>
<g id="q94n15"><circle class="b" cx="691" cy="1163" r="11.5"/><text x="691" y="1168.4">1</text></g>
<g id="q94n16"><circle class="b" cx="691" cy="1261" r="11.5"/><text x="691" y="1266.4">0</text></g>
</g>
<g id="Q95">
<g id="q95n1"><circle class="b" cx="741" cy="1163" r="11.5"/><text x="741" y="1168.4">20</text></g>
<g id="q95n2"><circle class="b" cx="773" cy="1163" r="11.5"/><text x="773" y="1168.4">10</text></g>
<g id="q95n3"><circle class="b" cx="805" cy="1163" r="11.5"/><text x="805" y="1168.4">9</text></g>
<g id="q95n4"><circle class="b" cx="837" cy="1163" r="11.5"/><text x="837" y="1168.4">8</text></g>
<g id="q95n5"><circle class="b" cx="869" cy="1163" r="11.5"/><text x="869" y="1168.4">7</text></g>
<g id="q95n6"><circle class="r" cx="902" cy="1163" r="11.5"/><text x="902" y="1168.4">6</text></g>
<g id="q95n7"><circle class="b" cx="934" cy="1163" r="11.5"/><text x="934" y="1168.4">6</text></g>
<g id="q95n8"><circle class="b" cx="966" cy="1163" r="11.5"/><text x="966" y="1168.4">4</text></g>
<g id="q95n9"><circle class="b" cx="998" cy="1163" r="11.5"/><text x="998" y="1168.4">2</text></g>
<g id="q95n10"><circle class="b" cx="1031" cy="1163" r="11.5"/><text x="1031" y="1168.4">1</text></g>
<g id="q95n11"><circle class="b" cx="741" cy="1212" r="11.5"/><text x="741" y="1217.4">18</text></g>
<g id="q95n12"><circle class="r" cx="902" cy="1212" r="11.5"/><text x="902" y="1217.4">2</text></g>
<g id="q95n13"><circle class="b" cx="934" cy="1212" r="11.5"/><text x="934" y="1217.4">5</text></g>
<g id="q95n14"><circle class="b" cx="1031" cy="1212" r="11.5"/><text x="1031" y="1217.4">0</text></g>
<g id="q95n15"><circle class="r" cx="886" cy="1261" r="11.5"/><text x="886" y="1266.4">2</text></g>
<g id="q95n16"><circle class="r" cx="918" cy="1261" r="11.5"/><text x="918" y="1266.4">2</text></g>
</g>
<g id="Q98">
<g id="q98n1"><circle class="r" cx="1092" cy="1163" r="11.5"/><text x="1092" y="1168.4">15</text></g>
<g id="q98n2"><circle class="r" cx="1120" cy="1163" r="11.5"/><text x="1120" y="1168.4">14</text></g>
<g id="q98n3"><circle class="b" cx="1216" cy="1163" r="11.5"/><text x="1216" y="1168.4">13</text></g>
<g id="q98n4"><circle class="b" cx="1243" cy="1163" r="11.5"/><text x="1243" y="1168.4">6</text></g>
<g id="q98n5"><circle class="b" cx="1270" cy="1163" r="11.5"/><text x="1270" y="1168.4">5</text></g>
<g id="q98n6"><circle class="b" cx="1298" cy="1163" r="11.5"/><text x="1298" y="1168.4">4</text></g>
<g id="q98n7"><circle class="b" cx="1325" cy="1163" r="11.5"/><text x="1325" y="1168.4">3</text></g>
<g id="q98n8"><circle class="b" cx="1353" cy="1163" r="11.5"/><text x="1353" y="1168.4">2</text></g>
<g id="q98n9"><circle class="b" cx="1382" cy="1163" r="11.5"/><text x="1382" y="1168.4">1</text></g>
<g id="q98n10"><circle class="b" cx="1092" cy="1261" r="11.5"/><text x="1092" y="1266.4">15</text></g>
<g id="q98n11"><circle class="b" cx="1120" cy="1261" r="11.5"/><text x="1120" y="1266.4">14</text></g>
<g id="q98n12"><circle class="b" cx="1147" cy="1261" r="11.5"/><text x="1147" y="1266.4">12</text></g>
<g id="q98n13"><circle class="b" cx="1175" cy="1261" r="11.5"/><text x="1175" y="1266.4">11</text></g>
<g id="q98n14"><circle class="b" cx="1203" cy="1261" r="11.5"/><text x="1203" y="1266.4">10</text></g>
<g id="q98n15"><circle class="b" cx="1230" cy="1261" r="11.5"/><text x="1230" y="1266.4">9</text></g>
<g id="q98n16"><circle class="b" cx="1257" cy="1261" r="11.5"/><text x="1257" y="1266.4">8</text></g>
<g id="q98n17"><circle class="b" cx="1284" cy="1261" r="11.5"/><text x="1284" y="1266.4">7</text></g>
<g id="q98n18"><circle class="b" cx="1382" cy="1261" r="11.5"/><text x="1382" y="1266.4">0</text></g>
</g>
</g>
</svg>
